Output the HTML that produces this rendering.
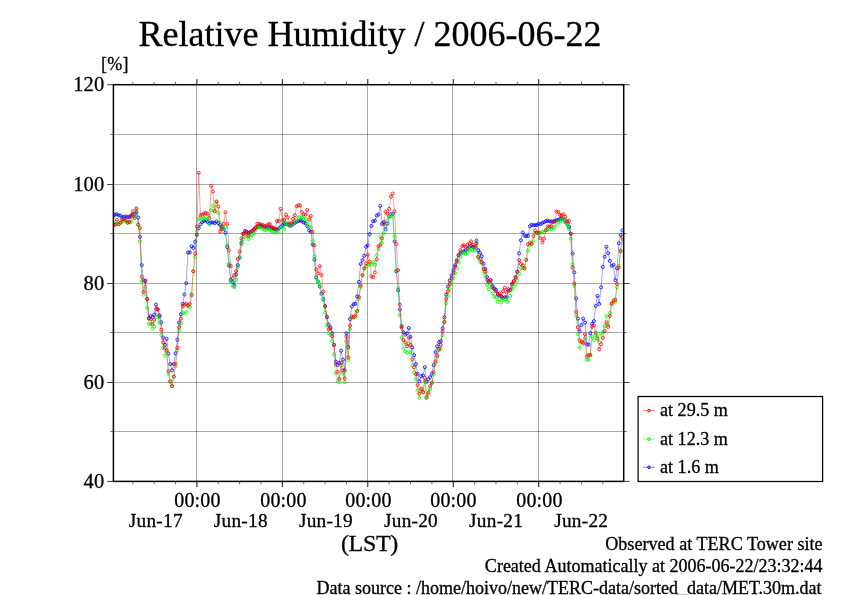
<!DOCTYPE html>
<html lang="en"><head><meta charset="utf-8"><title>Relative Humidity / 2006-06-22</title>
<style>
html,body{margin:0;padding:0;background:#fff;}
body{width:842px;height:595px;overflow:hidden;}
svg{display:block;will-change:transform;}
text{font-family:"Liberation Serif","Times New Roman",serif;fill:#000;stroke:#000;stroke-width:0.3px;}
</style></head><body>
<svg width="842" height="595" viewBox="0 0 842 595">
<rect width="842" height="595" fill="#fff"/>

<g stroke="#000" stroke-width="0.35" fill="none">
<line x1="196.5" y1="84.7" x2="196.5" y2="481.4"/>
<line x1="282.5" y1="84.7" x2="282.5" y2="481.4"/>
<line x1="367.5" y1="84.7" x2="367.5" y2="481.4"/>
<line x1="452.5" y1="84.7" x2="452.5" y2="481.4"/>
<line x1="538.5" y1="84.7" x2="538.5" y2="481.4"/>
<line x1="113.4" y1="431.50" x2="623.7" y2="431.50"/>
<line x1="113.4" y1="382.50" x2="623.7" y2="382.50"/>
<line x1="113.4" y1="332.50" x2="623.7" y2="332.50"/>
<line x1="113.4" y1="283.50" x2="623.7" y2="283.50"/>
<line x1="113.4" y1="233.50" x2="623.7" y2="233.50"/>
<line x1="113.4" y1="184.50" x2="623.7" y2="184.50"/>
<line x1="113.4" y1="134.50" x2="623.7" y2="134.50"/>
</g>
<clipPath id="pc"><rect x="113.4" y="84.7" width="510.30" height="396.70"/></clipPath>
<g clip-path="url(#pc)" fill="none">
<path d="M113.3 215.6 L115.0 214.7 L116.8 214.2 L118.6 215.2 L120.4 215.6 L122.2 217.5 L123.9 216.8 L125.7 216.4 L127.5 217.0 L129.3 217.0 L131.1 216.4 L132.8 214.7 L134.6 214.3 L136.4 212.2 L138.2 217.5 L140.0 236.8 L141.7 265.1 L143.5 280.3 L145.3 281.1 L147.1 298.7 L148.9 318.1 L150.6 316.1 L152.4 317.2 L154.2 314.7 L156.0 304.6 L157.8 309.2 L159.5 315.5 L161.3 322.3 L163.1 337.6 L164.9 344.9 L166.7 338.8 L168.4 353.6 L170.2 364.1 L172.0 370.4 L173.8 364.1 L175.6 353.3 L177.3 339.7 L179.1 322.5 L180.9 314.2 L182.7 303.8 L184.5 294.5 L186.2 283.1 L188.0 252.5 L189.8 252.5 L191.6 246.1 L193.4 247.9 L195.1 241.6 L196.9 234.9 L198.7 228.2 L200.5 224.4 L202.3 222.0 L204.0 221.0 L205.8 220.2 L207.6 222.0 L209.4 223.1 L211.2 222.5 L212.9 222.5 L214.7 223.1 L216.5 221.4 L218.3 223.1 L220.1 224.8 L221.8 226.9 L223.6 229.0 L225.4 232.8 L227.2 247.1 L229.0 265.5 L230.7 279.9 L232.5 281.9 L234.3 285.6 L236.1 274.7 L237.9 265.1 L239.6 257.4 L241.4 242.9 L243.2 233.8 L245.0 230.8 L246.8 231.8 L248.5 233.1 L250.3 232.2 L252.1 231.1 L253.9 230.0 L255.7 228.1 L257.4 226.8 L259.2 226.0 L261.0 226.0 L262.8 226.4 L264.6 227.1 L266.4 227.7 L268.1 227.3 L269.9 227.7 L271.7 228.1 L273.5 228.7 L275.3 229.1 L277.0 229.5 L278.8 228.4 L280.6 226.8 L282.4 225.1 L284.2 224.1 L285.9 223.7 L287.7 224.4 L289.5 225.7 L291.3 225.7 L293.1 224.1 L294.8 222.8 L296.6 221.7 L298.4 221.0 L300.2 220.3 L302.0 221.0 L303.7 222.4 L305.5 223.3 L307.3 226.4 L309.1 230.4 L310.9 231.8 L312.6 244.5 L314.4 259.6 L316.2 277.2 L318.0 281.5 L319.8 286.6 L321.5 293.4 L323.3 299.3 L325.1 306.0 L326.9 317.2 L328.7 324.6 L330.4 327.2 L332.2 333.2 L334.0 344.9 L335.8 361.7 L337.6 365.1 L339.3 363.0 L341.1 350.7 L342.9 359.7 L344.7 370.4 L346.5 333.2 L348.2 347.2 L350.0 319.0 L351.8 306.4 L353.6 304.1 L355.4 303.7 L357.1 296.3 L358.9 281.8 L360.7 263.9 L362.5 260.2 L364.3 255.9 L366.0 246.8 L367.8 245.4 L369.6 234.1 L371.4 226.0 L373.2 221.2 L374.9 220.7 L376.7 215.6 L378.5 214.5 L380.3 205.9 L382.1 223.9 L383.8 221.9 L385.6 229.3 L387.4 223.6 L389.2 216.2 L391.0 214.5 L392.7 213.9 L394.5 241.4 L396.3 271.4 L398.1 290.3 L399.9 309.5 L401.6 326.1 L403.4 332.2 L405.2 334.6 L407.0 333.4 L408.8 328.0 L410.5 336.9 L412.3 347.6 L414.1 355.2 L415.9 364.1 L417.7 373.8 L419.4 381.2 L421.2 376.2 L423.0 375.4 L424.8 367.1 L426.6 381.9 L428.4 379.2 L430.1 377.2 L431.9 373.5 L433.7 365.1 L435.5 352.0 L437.3 346.2 L439.0 342.2 L440.8 341.2 L442.6 328.3 L444.4 317.3 L446.2 294.6 L447.9 286.5 L449.7 280.4 L451.5 275.7 L453.3 270.3 L455.1 265.2 L456.8 260.3 L458.6 255.6 L460.4 252.9 L462.2 252.2 L464.0 251.5 L465.7 250.2 L467.5 248.8 L469.3 247.5 L471.1 246.1 L472.9 246.8 L474.6 247.5 L476.4 240.5 L478.2 250.2 L480.0 252.9 L481.8 256.2 L483.5 263.6 L485.3 269.0 L487.1 277.1 L488.9 281.1 L490.7 280.4 L492.4 285.8 L494.2 288.5 L496.0 289.8 L497.8 293.9 L499.6 295.9 L501.3 296.6 L503.1 297.9 L504.9 297.2 L506.7 297.2 L508.5 289.2 L510.2 289.8 L512.0 284.5 L513.8 281.1 L515.6 277.1 L517.4 271.7 L519.1 253.4 L520.9 240.3 L522.7 232.4 L524.5 235.6 L526.3 236.2 L528.0 235.9 L529.8 226.3 L531.6 224.7 L533.4 225.2 L535.2 225.2 L536.9 225.0 L538.7 223.6 L540.5 224.3 L542.3 222.9 L544.1 222.3 L545.8 221.2 L547.6 220.7 L549.4 221.2 L551.2 221.6 L553.0 221.6 L554.7 220.7 L556.5 220.3 L558.3 219.9 L560.1 218.9 L561.9 218.5 L563.6 219.6 L565.4 221.2 L567.2 223.6 L569.0 227.0 L570.8 233.7 L572.5 253.5 L574.3 272.3 L576.1 298.4 L577.9 318.6 L579.7 331.4 L581.4 325.1 L583.2 318.6 L585.0 322.6 L586.8 344.3 L588.6 344.7 L590.3 333.2 L592.1 323.9 L593.9 321.1 L595.7 306.0 L597.5 295.9 L599.2 303.9 L601.0 287.4 L602.8 266.8 L604.6 256.8 L606.4 246.8 L608.2 253.2 L609.9 260.9 L611.7 265.9 L613.5 264.8 L615.3 280.1 L617.1 268.3 L618.8 243.2 L620.6 235.0 L622.4 230.3" stroke="#0000ff" stroke-width="0.36"/>
<path d="M111.7 215.6a1.52 1.52 0 1 0 3.04 0a1.52 1.52 0 1 0 -3.04 0M113.5 214.7a1.52 1.52 0 1 0 3.04 0a1.52 1.52 0 1 0 -3.04 0M115.3 214.2a1.52 1.52 0 1 0 3.04 0a1.52 1.52 0 1 0 -3.04 0M117.1 215.2a1.52 1.52 0 1 0 3.04 0a1.52 1.52 0 1 0 -3.04 0M118.9 215.6a1.52 1.52 0 1 0 3.04 0a1.52 1.52 0 1 0 -3.04 0M120.6 217.5a1.52 1.52 0 1 0 3.04 0a1.52 1.52 0 1 0 -3.04 0M122.4 216.8a1.52 1.52 0 1 0 3.04 0a1.52 1.52 0 1 0 -3.04 0M124.2 216.4a1.52 1.52 0 1 0 3.04 0a1.52 1.52 0 1 0 -3.04 0M126.0 217.0a1.52 1.52 0 1 0 3.04 0a1.52 1.52 0 1 0 -3.04 0M127.8 217.0a1.52 1.52 0 1 0 3.04 0a1.52 1.52 0 1 0 -3.04 0M129.5 216.4a1.52 1.52 0 1 0 3.04 0a1.52 1.52 0 1 0 -3.04 0M131.3 214.7a1.52 1.52 0 1 0 3.04 0a1.52 1.52 0 1 0 -3.04 0M133.1 214.3a1.52 1.52 0 1 0 3.04 0a1.52 1.52 0 1 0 -3.04 0M134.9 212.2a1.52 1.52 0 1 0 3.04 0a1.52 1.52 0 1 0 -3.04 0M136.7 217.5a1.52 1.52 0 1 0 3.04 0a1.52 1.52 0 1 0 -3.04 0M138.4 236.8a1.52 1.52 0 1 0 3.04 0a1.52 1.52 0 1 0 -3.04 0M140.2 265.1a1.52 1.52 0 1 0 3.04 0a1.52 1.52 0 1 0 -3.04 0M142.0 280.3a1.52 1.52 0 1 0 3.04 0a1.52 1.52 0 1 0 -3.04 0M143.8 281.1a1.52 1.52 0 1 0 3.04 0a1.52 1.52 0 1 0 -3.04 0M145.6 298.7a1.52 1.52 0 1 0 3.04 0a1.52 1.52 0 1 0 -3.04 0M147.3 318.1a1.52 1.52 0 1 0 3.04 0a1.52 1.52 0 1 0 -3.04 0M149.1 316.1a1.52 1.52 0 1 0 3.04 0a1.52 1.52 0 1 0 -3.04 0M150.9 317.2a1.52 1.52 0 1 0 3.04 0a1.52 1.52 0 1 0 -3.04 0M152.7 314.7a1.52 1.52 0 1 0 3.04 0a1.52 1.52 0 1 0 -3.04 0M154.5 304.6a1.52 1.52 0 1 0 3.04 0a1.52 1.52 0 1 0 -3.04 0M156.2 309.2a1.52 1.52 0 1 0 3.04 0a1.52 1.52 0 1 0 -3.04 0M158.0 315.5a1.52 1.52 0 1 0 3.04 0a1.52 1.52 0 1 0 -3.04 0M159.8 322.3a1.52 1.52 0 1 0 3.04 0a1.52 1.52 0 1 0 -3.04 0M161.6 337.6a1.52 1.52 0 1 0 3.04 0a1.52 1.52 0 1 0 -3.04 0M163.4 344.9a1.52 1.52 0 1 0 3.04 0a1.52 1.52 0 1 0 -3.04 0M165.1 338.8a1.52 1.52 0 1 0 3.04 0a1.52 1.52 0 1 0 -3.04 0M166.9 353.6a1.52 1.52 0 1 0 3.04 0a1.52 1.52 0 1 0 -3.04 0M168.7 364.1a1.52 1.52 0 1 0 3.04 0a1.52 1.52 0 1 0 -3.04 0M170.5 370.4a1.52 1.52 0 1 0 3.04 0a1.52 1.52 0 1 0 -3.04 0M172.3 364.1a1.52 1.52 0 1 0 3.04 0a1.52 1.52 0 1 0 -3.04 0M174.0 353.3a1.52 1.52 0 1 0 3.04 0a1.52 1.52 0 1 0 -3.04 0M175.8 339.7a1.52 1.52 0 1 0 3.04 0a1.52 1.52 0 1 0 -3.04 0M177.6 322.5a1.52 1.52 0 1 0 3.04 0a1.52 1.52 0 1 0 -3.04 0M179.4 314.2a1.52 1.52 0 1 0 3.04 0a1.52 1.52 0 1 0 -3.04 0M181.2 303.8a1.52 1.52 0 1 0 3.04 0a1.52 1.52 0 1 0 -3.04 0M182.9 294.5a1.52 1.52 0 1 0 3.04 0a1.52 1.52 0 1 0 -3.04 0M184.7 283.1a1.52 1.52 0 1 0 3.04 0a1.52 1.52 0 1 0 -3.04 0M186.5 252.5a1.52 1.52 0 1 0 3.04 0a1.52 1.52 0 1 0 -3.04 0M188.3 252.5a1.52 1.52 0 1 0 3.04 0a1.52 1.52 0 1 0 -3.04 0M190.1 246.1a1.52 1.52 0 1 0 3.04 0a1.52 1.52 0 1 0 -3.04 0M191.8 247.9a1.52 1.52 0 1 0 3.04 0a1.52 1.52 0 1 0 -3.04 0M193.6 241.6a1.52 1.52 0 1 0 3.04 0a1.52 1.52 0 1 0 -3.04 0M195.4 234.9a1.52 1.52 0 1 0 3.04 0a1.52 1.52 0 1 0 -3.04 0M197.2 228.2a1.52 1.52 0 1 0 3.04 0a1.52 1.52 0 1 0 -3.04 0M199.0 224.4a1.52 1.52 0 1 0 3.04 0a1.52 1.52 0 1 0 -3.04 0M200.7 222.0a1.52 1.52 0 1 0 3.04 0a1.52 1.52 0 1 0 -3.04 0M202.5 221.0a1.52 1.52 0 1 0 3.04 0a1.52 1.52 0 1 0 -3.04 0M204.3 220.2a1.52 1.52 0 1 0 3.04 0a1.52 1.52 0 1 0 -3.04 0M206.1 222.0a1.52 1.52 0 1 0 3.04 0a1.52 1.52 0 1 0 -3.04 0M207.9 223.1a1.52 1.52 0 1 0 3.04 0a1.52 1.52 0 1 0 -3.04 0M209.6 222.5a1.52 1.52 0 1 0 3.04 0a1.52 1.52 0 1 0 -3.04 0M211.4 222.5a1.52 1.52 0 1 0 3.04 0a1.52 1.52 0 1 0 -3.04 0M213.2 223.1a1.52 1.52 0 1 0 3.04 0a1.52 1.52 0 1 0 -3.04 0M215.0 221.4a1.52 1.52 0 1 0 3.04 0a1.52 1.52 0 1 0 -3.04 0M216.8 223.1a1.52 1.52 0 1 0 3.04 0a1.52 1.52 0 1 0 -3.04 0M218.5 224.8a1.52 1.52 0 1 0 3.04 0a1.52 1.52 0 1 0 -3.04 0M220.3 226.9a1.52 1.52 0 1 0 3.04 0a1.52 1.52 0 1 0 -3.04 0M222.1 229.0a1.52 1.52 0 1 0 3.04 0a1.52 1.52 0 1 0 -3.04 0M223.9 232.8a1.52 1.52 0 1 0 3.04 0a1.52 1.52 0 1 0 -3.04 0M225.7 247.1a1.52 1.52 0 1 0 3.04 0a1.52 1.52 0 1 0 -3.04 0M227.4 265.5a1.52 1.52 0 1 0 3.04 0a1.52 1.52 0 1 0 -3.04 0M229.2 279.9a1.52 1.52 0 1 0 3.04 0a1.52 1.52 0 1 0 -3.04 0M231.0 281.9a1.52 1.52 0 1 0 3.04 0a1.52 1.52 0 1 0 -3.04 0M232.8 285.6a1.52 1.52 0 1 0 3.04 0a1.52 1.52 0 1 0 -3.04 0M234.6 274.7a1.52 1.52 0 1 0 3.04 0a1.52 1.52 0 1 0 -3.04 0M236.3 265.1a1.52 1.52 0 1 0 3.04 0a1.52 1.52 0 1 0 -3.04 0M238.1 257.4a1.52 1.52 0 1 0 3.04 0a1.52 1.52 0 1 0 -3.04 0M239.9 242.9a1.52 1.52 0 1 0 3.04 0a1.52 1.52 0 1 0 -3.04 0M241.7 233.8a1.52 1.52 0 1 0 3.04 0a1.52 1.52 0 1 0 -3.04 0M243.5 230.8a1.52 1.52 0 1 0 3.04 0a1.52 1.52 0 1 0 -3.04 0M245.2 231.8a1.52 1.52 0 1 0 3.04 0a1.52 1.52 0 1 0 -3.04 0M247.0 233.1a1.52 1.52 0 1 0 3.04 0a1.52 1.52 0 1 0 -3.04 0M248.8 232.2a1.52 1.52 0 1 0 3.04 0a1.52 1.52 0 1 0 -3.04 0M250.6 231.1a1.52 1.52 0 1 0 3.04 0a1.52 1.52 0 1 0 -3.04 0M252.4 230.0a1.52 1.52 0 1 0 3.04 0a1.52 1.52 0 1 0 -3.04 0M254.1 228.1a1.52 1.52 0 1 0 3.04 0a1.52 1.52 0 1 0 -3.04 0M255.9 226.8a1.52 1.52 0 1 0 3.04 0a1.52 1.52 0 1 0 -3.04 0M257.7 226.0a1.52 1.52 0 1 0 3.04 0a1.52 1.52 0 1 0 -3.04 0M259.5 226.0a1.52 1.52 0 1 0 3.04 0a1.52 1.52 0 1 0 -3.04 0M261.3 226.4a1.52 1.52 0 1 0 3.04 0a1.52 1.52 0 1 0 -3.04 0M263.1 227.1a1.52 1.52 0 1 0 3.04 0a1.52 1.52 0 1 0 -3.04 0M264.8 227.7a1.52 1.52 0 1 0 3.04 0a1.52 1.52 0 1 0 -3.04 0M266.6 227.3a1.52 1.52 0 1 0 3.04 0a1.52 1.52 0 1 0 -3.04 0M268.4 227.7a1.52 1.52 0 1 0 3.04 0a1.52 1.52 0 1 0 -3.04 0M270.2 228.1a1.52 1.52 0 1 0 3.04 0a1.52 1.52 0 1 0 -3.04 0M272.0 228.7a1.52 1.52 0 1 0 3.04 0a1.52 1.52 0 1 0 -3.04 0M273.7 229.1a1.52 1.52 0 1 0 3.04 0a1.52 1.52 0 1 0 -3.04 0M275.5 229.5a1.52 1.52 0 1 0 3.04 0a1.52 1.52 0 1 0 -3.04 0M277.3 228.4a1.52 1.52 0 1 0 3.04 0a1.52 1.52 0 1 0 -3.04 0M279.1 226.8a1.52 1.52 0 1 0 3.04 0a1.52 1.52 0 1 0 -3.04 0M280.9 225.1a1.52 1.52 0 1 0 3.04 0a1.52 1.52 0 1 0 -3.04 0M282.6 224.1a1.52 1.52 0 1 0 3.04 0a1.52 1.52 0 1 0 -3.04 0M284.4 223.7a1.52 1.52 0 1 0 3.04 0a1.52 1.52 0 1 0 -3.04 0M286.2 224.4a1.52 1.52 0 1 0 3.04 0a1.52 1.52 0 1 0 -3.04 0M288.0 225.7a1.52 1.52 0 1 0 3.04 0a1.52 1.52 0 1 0 -3.04 0M289.8 225.7a1.52 1.52 0 1 0 3.04 0a1.52 1.52 0 1 0 -3.04 0M291.5 224.1a1.52 1.52 0 1 0 3.04 0a1.52 1.52 0 1 0 -3.04 0M293.3 222.8a1.52 1.52 0 1 0 3.04 0a1.52 1.52 0 1 0 -3.04 0M295.1 221.7a1.52 1.52 0 1 0 3.04 0a1.52 1.52 0 1 0 -3.04 0M296.9 221.0a1.52 1.52 0 1 0 3.04 0a1.52 1.52 0 1 0 -3.04 0M298.7 220.3a1.52 1.52 0 1 0 3.04 0a1.52 1.52 0 1 0 -3.04 0M300.4 221.0a1.52 1.52 0 1 0 3.04 0a1.52 1.52 0 1 0 -3.04 0M302.2 222.4a1.52 1.52 0 1 0 3.04 0a1.52 1.52 0 1 0 -3.04 0M304.0 223.3a1.52 1.52 0 1 0 3.04 0a1.52 1.52 0 1 0 -3.04 0M305.8 226.4a1.52 1.52 0 1 0 3.04 0a1.52 1.52 0 1 0 -3.04 0M307.6 230.4a1.52 1.52 0 1 0 3.04 0a1.52 1.52 0 1 0 -3.04 0M309.3 231.8a1.52 1.52 0 1 0 3.04 0a1.52 1.52 0 1 0 -3.04 0M311.1 244.5a1.52 1.52 0 1 0 3.04 0a1.52 1.52 0 1 0 -3.04 0M312.9 259.6a1.52 1.52 0 1 0 3.04 0a1.52 1.52 0 1 0 -3.04 0M314.7 277.2a1.52 1.52 0 1 0 3.04 0a1.52 1.52 0 1 0 -3.04 0M316.5 281.5a1.52 1.52 0 1 0 3.04 0a1.52 1.52 0 1 0 -3.04 0M318.2 286.6a1.52 1.52 0 1 0 3.04 0a1.52 1.52 0 1 0 -3.04 0M320.0 293.4a1.52 1.52 0 1 0 3.04 0a1.52 1.52 0 1 0 -3.04 0M321.8 299.3a1.52 1.52 0 1 0 3.04 0a1.52 1.52 0 1 0 -3.04 0M323.6 306.0a1.52 1.52 0 1 0 3.04 0a1.52 1.52 0 1 0 -3.04 0M325.4 317.2a1.52 1.52 0 1 0 3.04 0a1.52 1.52 0 1 0 -3.04 0M327.1 324.6a1.52 1.52 0 1 0 3.04 0a1.52 1.52 0 1 0 -3.04 0M328.9 327.2a1.52 1.52 0 1 0 3.04 0a1.52 1.52 0 1 0 -3.04 0M330.7 333.2a1.52 1.52 0 1 0 3.04 0a1.52 1.52 0 1 0 -3.04 0M332.5 344.9a1.52 1.52 0 1 0 3.04 0a1.52 1.52 0 1 0 -3.04 0M334.3 361.7a1.52 1.52 0 1 0 3.04 0a1.52 1.52 0 1 0 -3.04 0M336.0 365.1a1.52 1.52 0 1 0 3.04 0a1.52 1.52 0 1 0 -3.04 0M337.8 363.0a1.52 1.52 0 1 0 3.04 0a1.52 1.52 0 1 0 -3.04 0M339.6 350.7a1.52 1.52 0 1 0 3.04 0a1.52 1.52 0 1 0 -3.04 0M341.4 359.7a1.52 1.52 0 1 0 3.04 0a1.52 1.52 0 1 0 -3.04 0M343.2 370.4a1.52 1.52 0 1 0 3.04 0a1.52 1.52 0 1 0 -3.04 0M344.9 333.2a1.52 1.52 0 1 0 3.04 0a1.52 1.52 0 1 0 -3.04 0M346.7 347.2a1.52 1.52 0 1 0 3.04 0a1.52 1.52 0 1 0 -3.04 0M348.5 319.0a1.52 1.52 0 1 0 3.04 0a1.52 1.52 0 1 0 -3.04 0M350.3 306.4a1.52 1.52 0 1 0 3.04 0a1.52 1.52 0 1 0 -3.04 0M352.1 304.1a1.52 1.52 0 1 0 3.04 0a1.52 1.52 0 1 0 -3.04 0M353.8 303.7a1.52 1.52 0 1 0 3.04 0a1.52 1.52 0 1 0 -3.04 0M355.6 296.3a1.52 1.52 0 1 0 3.04 0a1.52 1.52 0 1 0 -3.04 0M357.4 281.8a1.52 1.52 0 1 0 3.04 0a1.52 1.52 0 1 0 -3.04 0M359.2 263.9a1.52 1.52 0 1 0 3.04 0a1.52 1.52 0 1 0 -3.04 0M361.0 260.2a1.52 1.52 0 1 0 3.04 0a1.52 1.52 0 1 0 -3.04 0M362.7 255.9a1.52 1.52 0 1 0 3.04 0a1.52 1.52 0 1 0 -3.04 0M364.5 246.8a1.52 1.52 0 1 0 3.04 0a1.52 1.52 0 1 0 -3.04 0M366.3 245.4a1.52 1.52 0 1 0 3.04 0a1.52 1.52 0 1 0 -3.04 0M368.1 234.1a1.52 1.52 0 1 0 3.04 0a1.52 1.52 0 1 0 -3.04 0M369.9 226.0a1.52 1.52 0 1 0 3.04 0a1.52 1.52 0 1 0 -3.04 0M371.6 221.2a1.52 1.52 0 1 0 3.04 0a1.52 1.52 0 1 0 -3.04 0M373.4 220.7a1.52 1.52 0 1 0 3.04 0a1.52 1.52 0 1 0 -3.04 0M375.2 215.6a1.52 1.52 0 1 0 3.04 0a1.52 1.52 0 1 0 -3.04 0M377.0 214.5a1.52 1.52 0 1 0 3.04 0a1.52 1.52 0 1 0 -3.04 0M378.8 205.9a1.52 1.52 0 1 0 3.04 0a1.52 1.52 0 1 0 -3.04 0M380.5 223.9a1.52 1.52 0 1 0 3.04 0a1.52 1.52 0 1 0 -3.04 0M382.3 221.9a1.52 1.52 0 1 0 3.04 0a1.52 1.52 0 1 0 -3.04 0M384.1 229.3a1.52 1.52 0 1 0 3.04 0a1.52 1.52 0 1 0 -3.04 0M385.9 223.6a1.52 1.52 0 1 0 3.04 0a1.52 1.52 0 1 0 -3.04 0M387.7 216.2a1.52 1.52 0 1 0 3.04 0a1.52 1.52 0 1 0 -3.04 0M389.4 214.5a1.52 1.52 0 1 0 3.04 0a1.52 1.52 0 1 0 -3.04 0M391.2 213.9a1.52 1.52 0 1 0 3.04 0a1.52 1.52 0 1 0 -3.04 0M393.0 241.4a1.52 1.52 0 1 0 3.04 0a1.52 1.52 0 1 0 -3.04 0M394.8 271.4a1.52 1.52 0 1 0 3.04 0a1.52 1.52 0 1 0 -3.04 0M396.6 290.3a1.52 1.52 0 1 0 3.04 0a1.52 1.52 0 1 0 -3.04 0M398.3 309.5a1.52 1.52 0 1 0 3.04 0a1.52 1.52 0 1 0 -3.04 0M400.1 326.1a1.52 1.52 0 1 0 3.04 0a1.52 1.52 0 1 0 -3.04 0M401.9 332.2a1.52 1.52 0 1 0 3.04 0a1.52 1.52 0 1 0 -3.04 0M403.7 334.6a1.52 1.52 0 1 0 3.04 0a1.52 1.52 0 1 0 -3.04 0M405.5 333.4a1.52 1.52 0 1 0 3.04 0a1.52 1.52 0 1 0 -3.04 0M407.2 328.0a1.52 1.52 0 1 0 3.04 0a1.52 1.52 0 1 0 -3.04 0M409.0 336.9a1.52 1.52 0 1 0 3.04 0a1.52 1.52 0 1 0 -3.04 0M410.8 347.6a1.52 1.52 0 1 0 3.04 0a1.52 1.52 0 1 0 -3.04 0M412.6 355.2a1.52 1.52 0 1 0 3.04 0a1.52 1.52 0 1 0 -3.04 0M414.4 364.1a1.52 1.52 0 1 0 3.04 0a1.52 1.52 0 1 0 -3.04 0M416.1 373.8a1.52 1.52 0 1 0 3.04 0a1.52 1.52 0 1 0 -3.04 0M417.9 381.2a1.52 1.52 0 1 0 3.04 0a1.52 1.52 0 1 0 -3.04 0M419.7 376.2a1.52 1.52 0 1 0 3.04 0a1.52 1.52 0 1 0 -3.04 0M421.5 375.4a1.52 1.52 0 1 0 3.04 0a1.52 1.52 0 1 0 -3.04 0M423.3 367.1a1.52 1.52 0 1 0 3.04 0a1.52 1.52 0 1 0 -3.04 0M425.0 381.9a1.52 1.52 0 1 0 3.04 0a1.52 1.52 0 1 0 -3.04 0M426.8 379.2a1.52 1.52 0 1 0 3.04 0a1.52 1.52 0 1 0 -3.04 0M428.6 377.2a1.52 1.52 0 1 0 3.04 0a1.52 1.52 0 1 0 -3.04 0M430.4 373.5a1.52 1.52 0 1 0 3.04 0a1.52 1.52 0 1 0 -3.04 0M432.2 365.1a1.52 1.52 0 1 0 3.04 0a1.52 1.52 0 1 0 -3.04 0M434.0 352.0a1.52 1.52 0 1 0 3.04 0a1.52 1.52 0 1 0 -3.04 0M435.7 346.2a1.52 1.52 0 1 0 3.04 0a1.52 1.52 0 1 0 -3.04 0M437.5 342.2a1.52 1.52 0 1 0 3.04 0a1.52 1.52 0 1 0 -3.04 0M439.3 341.2a1.52 1.52 0 1 0 3.04 0a1.52 1.52 0 1 0 -3.04 0M441.1 328.3a1.52 1.52 0 1 0 3.04 0a1.52 1.52 0 1 0 -3.04 0M442.9 317.3a1.52 1.52 0 1 0 3.04 0a1.52 1.52 0 1 0 -3.04 0M444.6 294.6a1.52 1.52 0 1 0 3.04 0a1.52 1.52 0 1 0 -3.04 0M446.4 286.5a1.52 1.52 0 1 0 3.04 0a1.52 1.52 0 1 0 -3.04 0M448.2 280.4a1.52 1.52 0 1 0 3.04 0a1.52 1.52 0 1 0 -3.04 0M450.0 275.7a1.52 1.52 0 1 0 3.04 0a1.52 1.52 0 1 0 -3.04 0M451.8 270.3a1.52 1.52 0 1 0 3.04 0a1.52 1.52 0 1 0 -3.04 0M453.5 265.2a1.52 1.52 0 1 0 3.04 0a1.52 1.52 0 1 0 -3.04 0M455.3 260.3a1.52 1.52 0 1 0 3.04 0a1.52 1.52 0 1 0 -3.04 0M457.1 255.6a1.52 1.52 0 1 0 3.04 0a1.52 1.52 0 1 0 -3.04 0M458.9 252.9a1.52 1.52 0 1 0 3.04 0a1.52 1.52 0 1 0 -3.04 0M460.7 252.2a1.52 1.52 0 1 0 3.04 0a1.52 1.52 0 1 0 -3.04 0M462.4 251.5a1.52 1.52 0 1 0 3.04 0a1.52 1.52 0 1 0 -3.04 0M464.2 250.2a1.52 1.52 0 1 0 3.04 0a1.52 1.52 0 1 0 -3.04 0M466.0 248.8a1.52 1.52 0 1 0 3.04 0a1.52 1.52 0 1 0 -3.04 0M467.8 247.5a1.52 1.52 0 1 0 3.04 0a1.52 1.52 0 1 0 -3.04 0M469.6 246.1a1.52 1.52 0 1 0 3.04 0a1.52 1.52 0 1 0 -3.04 0M471.3 246.8a1.52 1.52 0 1 0 3.04 0a1.52 1.52 0 1 0 -3.04 0M473.1 247.5a1.52 1.52 0 1 0 3.04 0a1.52 1.52 0 1 0 -3.04 0M474.9 240.5a1.52 1.52 0 1 0 3.04 0a1.52 1.52 0 1 0 -3.04 0M476.7 250.2a1.52 1.52 0 1 0 3.04 0a1.52 1.52 0 1 0 -3.04 0M478.5 252.9a1.52 1.52 0 1 0 3.04 0a1.52 1.52 0 1 0 -3.04 0M480.2 256.2a1.52 1.52 0 1 0 3.04 0a1.52 1.52 0 1 0 -3.04 0M482.0 263.6a1.52 1.52 0 1 0 3.04 0a1.52 1.52 0 1 0 -3.04 0M483.8 269.0a1.52 1.52 0 1 0 3.04 0a1.52 1.52 0 1 0 -3.04 0M485.6 277.1a1.52 1.52 0 1 0 3.04 0a1.52 1.52 0 1 0 -3.04 0M487.4 281.1a1.52 1.52 0 1 0 3.04 0a1.52 1.52 0 1 0 -3.04 0M489.1 280.4a1.52 1.52 0 1 0 3.04 0a1.52 1.52 0 1 0 -3.04 0M490.9 285.8a1.52 1.52 0 1 0 3.04 0a1.52 1.52 0 1 0 -3.04 0M492.7 288.5a1.52 1.52 0 1 0 3.04 0a1.52 1.52 0 1 0 -3.04 0M494.5 289.8a1.52 1.52 0 1 0 3.04 0a1.52 1.52 0 1 0 -3.04 0M496.3 293.9a1.52 1.52 0 1 0 3.04 0a1.52 1.52 0 1 0 -3.04 0M498.0 295.9a1.52 1.52 0 1 0 3.04 0a1.52 1.52 0 1 0 -3.04 0M499.8 296.6a1.52 1.52 0 1 0 3.04 0a1.52 1.52 0 1 0 -3.04 0M501.6 297.9a1.52 1.52 0 1 0 3.04 0a1.52 1.52 0 1 0 -3.04 0M503.4 297.2a1.52 1.52 0 1 0 3.04 0a1.52 1.52 0 1 0 -3.04 0M505.2 297.2a1.52 1.52 0 1 0 3.04 0a1.52 1.52 0 1 0 -3.04 0M506.9 289.2a1.52 1.52 0 1 0 3.04 0a1.52 1.52 0 1 0 -3.04 0M508.7 289.8a1.52 1.52 0 1 0 3.04 0a1.52 1.52 0 1 0 -3.04 0M510.5 284.5a1.52 1.52 0 1 0 3.04 0a1.52 1.52 0 1 0 -3.04 0M512.3 281.1a1.52 1.52 0 1 0 3.04 0a1.52 1.52 0 1 0 -3.04 0M514.1 277.1a1.52 1.52 0 1 0 3.04 0a1.52 1.52 0 1 0 -3.04 0M515.8 271.7a1.52 1.52 0 1 0 3.04 0a1.52 1.52 0 1 0 -3.04 0M517.6 253.4a1.52 1.52 0 1 0 3.04 0a1.52 1.52 0 1 0 -3.04 0M519.4 240.3a1.52 1.52 0 1 0 3.04 0a1.52 1.52 0 1 0 -3.04 0M521.2 232.4a1.52 1.52 0 1 0 3.04 0a1.52 1.52 0 1 0 -3.04 0M523.0 235.6a1.52 1.52 0 1 0 3.04 0a1.52 1.52 0 1 0 -3.04 0M524.7 236.2a1.52 1.52 0 1 0 3.04 0a1.52 1.52 0 1 0 -3.04 0M526.5 235.9a1.52 1.52 0 1 0 3.04 0a1.52 1.52 0 1 0 -3.04 0M528.3 226.3a1.52 1.52 0 1 0 3.04 0a1.52 1.52 0 1 0 -3.04 0M530.1 224.7a1.52 1.52 0 1 0 3.04 0a1.52 1.52 0 1 0 -3.04 0M531.9 225.2a1.52 1.52 0 1 0 3.04 0a1.52 1.52 0 1 0 -3.04 0M533.6 225.2a1.52 1.52 0 1 0 3.04 0a1.52 1.52 0 1 0 -3.04 0M535.4 225.0a1.52 1.52 0 1 0 3.04 0a1.52 1.52 0 1 0 -3.04 0M537.2 223.6a1.52 1.52 0 1 0 3.04 0a1.52 1.52 0 1 0 -3.04 0M539.0 224.3a1.52 1.52 0 1 0 3.04 0a1.52 1.52 0 1 0 -3.04 0M540.8 222.9a1.52 1.52 0 1 0 3.04 0a1.52 1.52 0 1 0 -3.04 0M542.5 222.3a1.52 1.52 0 1 0 3.04 0a1.52 1.52 0 1 0 -3.04 0M544.3 221.2a1.52 1.52 0 1 0 3.04 0a1.52 1.52 0 1 0 -3.04 0M546.1 220.7a1.52 1.52 0 1 0 3.04 0a1.52 1.52 0 1 0 -3.04 0M547.9 221.2a1.52 1.52 0 1 0 3.04 0a1.52 1.52 0 1 0 -3.04 0M549.7 221.6a1.52 1.52 0 1 0 3.04 0a1.52 1.52 0 1 0 -3.04 0M551.4 221.6a1.52 1.52 0 1 0 3.04 0a1.52 1.52 0 1 0 -3.04 0M553.2 220.7a1.52 1.52 0 1 0 3.04 0a1.52 1.52 0 1 0 -3.04 0M555.0 220.3a1.52 1.52 0 1 0 3.04 0a1.52 1.52 0 1 0 -3.04 0M556.8 219.9a1.52 1.52 0 1 0 3.04 0a1.52 1.52 0 1 0 -3.04 0M558.6 218.9a1.52 1.52 0 1 0 3.04 0a1.52 1.52 0 1 0 -3.04 0M560.3 218.5a1.52 1.52 0 1 0 3.04 0a1.52 1.52 0 1 0 -3.04 0M562.1 219.6a1.52 1.52 0 1 0 3.04 0a1.52 1.52 0 1 0 -3.04 0M563.9 221.2a1.52 1.52 0 1 0 3.04 0a1.52 1.52 0 1 0 -3.04 0M565.7 223.6a1.52 1.52 0 1 0 3.04 0a1.52 1.52 0 1 0 -3.04 0M567.5 227.0a1.52 1.52 0 1 0 3.04 0a1.52 1.52 0 1 0 -3.04 0M569.2 233.7a1.52 1.52 0 1 0 3.04 0a1.52 1.52 0 1 0 -3.04 0M571.0 253.5a1.52 1.52 0 1 0 3.04 0a1.52 1.52 0 1 0 -3.04 0M572.8 272.3a1.52 1.52 0 1 0 3.04 0a1.52 1.52 0 1 0 -3.04 0M574.6 298.4a1.52 1.52 0 1 0 3.04 0a1.52 1.52 0 1 0 -3.04 0M576.4 318.6a1.52 1.52 0 1 0 3.04 0a1.52 1.52 0 1 0 -3.04 0M578.1 331.4a1.52 1.52 0 1 0 3.04 0a1.52 1.52 0 1 0 -3.04 0M579.9 325.1a1.52 1.52 0 1 0 3.04 0a1.52 1.52 0 1 0 -3.04 0M581.7 318.6a1.52 1.52 0 1 0 3.04 0a1.52 1.52 0 1 0 -3.04 0M583.5 322.6a1.52 1.52 0 1 0 3.04 0a1.52 1.52 0 1 0 -3.04 0M585.3 344.3a1.52 1.52 0 1 0 3.04 0a1.52 1.52 0 1 0 -3.04 0M587.0 344.7a1.52 1.52 0 1 0 3.04 0a1.52 1.52 0 1 0 -3.04 0M588.8 333.2a1.52 1.52 0 1 0 3.04 0a1.52 1.52 0 1 0 -3.04 0M590.6 323.9a1.52 1.52 0 1 0 3.04 0a1.52 1.52 0 1 0 -3.04 0M592.4 321.1a1.52 1.52 0 1 0 3.04 0a1.52 1.52 0 1 0 -3.04 0M594.2 306.0a1.52 1.52 0 1 0 3.04 0a1.52 1.52 0 1 0 -3.04 0M595.9 295.9a1.52 1.52 0 1 0 3.04 0a1.52 1.52 0 1 0 -3.04 0M597.7 303.9a1.52 1.52 0 1 0 3.04 0a1.52 1.52 0 1 0 -3.04 0M599.5 287.4a1.52 1.52 0 1 0 3.04 0a1.52 1.52 0 1 0 -3.04 0M601.3 266.8a1.52 1.52 0 1 0 3.04 0a1.52 1.52 0 1 0 -3.04 0M603.1 256.8a1.52 1.52 0 1 0 3.04 0a1.52 1.52 0 1 0 -3.04 0M604.9 246.8a1.52 1.52 0 1 0 3.04 0a1.52 1.52 0 1 0 -3.04 0M606.6 253.2a1.52 1.52 0 1 0 3.04 0a1.52 1.52 0 1 0 -3.04 0M608.4 260.9a1.52 1.52 0 1 0 3.04 0a1.52 1.52 0 1 0 -3.04 0M610.2 265.9a1.52 1.52 0 1 0 3.04 0a1.52 1.52 0 1 0 -3.04 0M612.0 264.8a1.52 1.52 0 1 0 3.04 0a1.52 1.52 0 1 0 -3.04 0M613.8 280.1a1.52 1.52 0 1 0 3.04 0a1.52 1.52 0 1 0 -3.04 0M615.5 268.3a1.52 1.52 0 1 0 3.04 0a1.52 1.52 0 1 0 -3.04 0M617.3 243.2a1.52 1.52 0 1 0 3.04 0a1.52 1.52 0 1 0 -3.04 0M619.1 235.0a1.52 1.52 0 1 0 3.04 0a1.52 1.52 0 1 0 -3.04 0M620.9 230.3a1.52 1.52 0 1 0 3.04 0a1.52 1.52 0 1 0 -3.04 0" stroke="#0000ff" stroke-width="0.8"/>
<path d="M113.3 222.7 L115.0 224.4 L116.8 223.6 L118.6 224.0 L120.4 222.7 L122.2 221.9 L123.9 220.2 L125.7 221.1 L127.5 222.7 L129.3 222.3 L131.1 221.9 L132.8 217.3 L134.6 215.2 L136.4 208.9 L138.2 224.8 L140.0 241.4 L141.7 281.1 L143.5 294.5 L145.3 286.6 L147.1 308.0 L148.9 323.9 L150.6 323.9 L152.4 328.7 L154.2 326.5 L156.0 314.7 L157.8 317.2 L159.5 322.6 L161.3 334.8 L163.1 347.8 L164.9 355.6 L166.7 351.6 L168.4 373.8 L170.2 381.8 L172.0 386.1 L173.8 376.7 L175.6 366.4 L177.3 350.2 L179.1 330.2 L180.9 323.1 L182.7 312.5 L184.5 313.5 L186.2 312.5 L188.0 306.3 L189.8 307.1 L191.6 294.0 L193.4 271.0 L195.1 256.7 L196.9 231.3 L198.7 218.7 L200.5 219.5 L202.3 218.9 L204.0 218.1 L205.8 217.2 L207.6 219.7 L209.4 224.8 L211.2 210.1 L212.9 205.7 L214.7 211.1 L216.5 201.3 L218.3 213.0 L220.1 222.5 L221.8 229.0 L223.6 228.2 L225.4 226.9 L227.2 245.0 L229.0 263.8 L230.7 281.9 L232.5 286.1 L234.3 287.3 L236.1 279.9 L237.9 266.8 L239.6 257.9 L241.4 244.3 L243.2 239.2 L245.0 236.5 L246.8 235.8 L248.5 239.2 L250.3 236.5 L252.1 235.1 L253.9 233.8 L255.7 230.4 L257.4 227.7 L259.2 227.3 L261.0 227.7 L262.8 228.7 L264.6 230.0 L266.4 230.4 L268.1 229.1 L269.9 229.5 L271.7 231.8 L273.5 232.2 L275.3 232.2 L277.0 232.2 L278.8 231.8 L280.6 227.7 L282.4 226.8 L284.2 229.1 L285.9 223.7 L287.7 223.3 L289.5 224.4 L291.3 225.1 L293.1 222.8 L294.8 221.0 L296.6 219.3 L298.4 217.7 L300.2 216.6 L302.0 217.4 L303.7 218.7 L305.5 219.3 L307.3 223.7 L309.1 226.4 L310.9 227.1 L312.6 241.0 L314.4 256.5 L316.2 278.2 L318.0 282.2 L319.8 283.5 L321.5 294.3 L323.3 299.7 L325.1 312.7 L326.9 325.2 L328.7 333.4 L330.4 334.7 L332.2 341.0 L334.0 354.3 L335.8 373.1 L337.6 380.5 L339.3 382.1 L341.1 365.7 L342.9 373.1 L344.7 382.1 L346.5 341.2 L348.2 360.1 L350.0 329.2 L351.8 317.2 L353.6 317.8 L355.4 317.2 L357.1 311.8 L358.9 299.0 L360.7 286.9 L362.5 275.5 L364.3 268.7 L366.0 266.4 L367.8 264.9 L369.6 263.9 L371.4 264.9 L373.2 262.0 L374.9 264.9 L376.7 255.2 L378.5 249.4 L380.3 236.8 L382.1 243.1 L383.8 233.3 L385.6 226.3 L387.4 220.3 L389.2 216.9 L391.0 214.9 L392.7 216.2 L394.5 236.4 L396.3 270.1 L398.1 288.5 L399.9 314.9 L401.6 337.3 L403.4 348.5 L405.2 351.6 L407.0 352.9 L408.8 343.5 L410.5 352.3 L412.3 365.5 L414.1 372.4 L415.9 378.9 L417.7 390.2 L419.4 398.0 L421.2 389.3 L423.0 392.6 L424.8 381.2 L426.6 398.0 L428.4 394.0 L430.1 388.9 L431.9 383.2 L433.7 374.5 L435.5 363.0 L437.3 357.0 L439.0 349.9 L440.8 348.9 L442.6 335.1 L444.4 322.0 L446.2 303.3 L447.9 295.9 L449.7 289.2 L451.5 283.8 L453.3 278.4 L455.1 273.0 L456.8 268.3 L458.6 262.3 L460.4 256.9 L462.2 252.9 L464.0 253.5 L465.7 253.5 L467.5 252.9 L469.3 249.5 L471.1 247.2 L472.9 250.2 L474.6 250.8 L476.4 242.8 L478.2 257.6 L480.0 261.6 L481.8 262.9 L483.5 271.7 L485.3 276.4 L487.1 285.1 L488.9 289.2 L490.7 283.1 L492.4 293.2 L494.2 296.6 L496.0 297.2 L497.8 301.9 L499.6 298.9 L501.3 302.6 L503.1 299.9 L504.9 299.3 L506.7 301.9 L508.5 300.6 L510.2 295.9 L512.0 289.2 L513.8 286.5 L515.6 284.5 L517.4 280.4 L519.1 273.7 L520.9 268.2 L522.7 268.2 L524.5 268.5 L526.3 259.9 L528.0 250.8 L529.8 245.0 L531.6 244.2 L533.4 241.3 L535.2 232.9 L536.9 232.9 L538.7 233.1 L540.5 232.8 L542.3 232.0 L544.1 232.4 L545.8 230.1 L547.6 229.7 L549.4 228.3 L551.2 229.0 L553.0 227.4 L554.7 227.7 L556.5 224.3 L558.3 222.3 L560.1 221.2 L561.9 219.6 L563.6 219.9 L565.4 222.3 L567.2 225.2 L569.0 229.0 L570.8 238.7 L572.5 264.7 L574.3 285.9 L576.1 315.5 L577.9 334.1 L579.7 348.1 L581.4 342.3 L583.2 342.0 L585.0 338.2 L586.8 359.8 L588.6 359.8 L590.3 355.6 L592.1 336.7 L593.9 340.2 L595.7 335.2 L597.5 336.0 L599.2 342.0 L601.0 333.7 L602.8 332.2 L604.6 326.1 L606.4 316.0 L608.2 324.6 L609.9 313.0 L611.7 303.0 L613.5 300.0 L615.3 301.9 L617.1 287.3 L618.8 265.6 L620.6 251.5 L622.4 239.1" stroke="#00ff00" stroke-width="0.36"/>
<path d="M111.7 222.7a1.52 1.52 0 1 0 3.04 0a1.52 1.52 0 1 0 -3.04 0M113.5 224.4a1.52 1.52 0 1 0 3.04 0a1.52 1.52 0 1 0 -3.04 0M115.3 223.6a1.52 1.52 0 1 0 3.04 0a1.52 1.52 0 1 0 -3.04 0M117.1 224.0a1.52 1.52 0 1 0 3.04 0a1.52 1.52 0 1 0 -3.04 0M118.9 222.7a1.52 1.52 0 1 0 3.04 0a1.52 1.52 0 1 0 -3.04 0M120.6 221.9a1.52 1.52 0 1 0 3.04 0a1.52 1.52 0 1 0 -3.04 0M122.4 220.2a1.52 1.52 0 1 0 3.04 0a1.52 1.52 0 1 0 -3.04 0M124.2 221.1a1.52 1.52 0 1 0 3.04 0a1.52 1.52 0 1 0 -3.04 0M126.0 222.7a1.52 1.52 0 1 0 3.04 0a1.52 1.52 0 1 0 -3.04 0M127.8 222.3a1.52 1.52 0 1 0 3.04 0a1.52 1.52 0 1 0 -3.04 0M129.5 221.9a1.52 1.52 0 1 0 3.04 0a1.52 1.52 0 1 0 -3.04 0M131.3 217.3a1.52 1.52 0 1 0 3.04 0a1.52 1.52 0 1 0 -3.04 0M133.1 215.2a1.52 1.52 0 1 0 3.04 0a1.52 1.52 0 1 0 -3.04 0M134.9 208.9a1.52 1.52 0 1 0 3.04 0a1.52 1.52 0 1 0 -3.04 0M136.7 224.8a1.52 1.52 0 1 0 3.04 0a1.52 1.52 0 1 0 -3.04 0M138.4 241.4a1.52 1.52 0 1 0 3.04 0a1.52 1.52 0 1 0 -3.04 0M140.2 281.1a1.52 1.52 0 1 0 3.04 0a1.52 1.52 0 1 0 -3.04 0M142.0 294.5a1.52 1.52 0 1 0 3.04 0a1.52 1.52 0 1 0 -3.04 0M143.8 286.6a1.52 1.52 0 1 0 3.04 0a1.52 1.52 0 1 0 -3.04 0M145.6 308.0a1.52 1.52 0 1 0 3.04 0a1.52 1.52 0 1 0 -3.04 0M147.3 323.9a1.52 1.52 0 1 0 3.04 0a1.52 1.52 0 1 0 -3.04 0M149.1 323.9a1.52 1.52 0 1 0 3.04 0a1.52 1.52 0 1 0 -3.04 0M150.9 328.7a1.52 1.52 0 1 0 3.04 0a1.52 1.52 0 1 0 -3.04 0M152.7 326.5a1.52 1.52 0 1 0 3.04 0a1.52 1.52 0 1 0 -3.04 0M154.5 314.7a1.52 1.52 0 1 0 3.04 0a1.52 1.52 0 1 0 -3.04 0M156.2 317.2a1.52 1.52 0 1 0 3.04 0a1.52 1.52 0 1 0 -3.04 0M158.0 322.6a1.52 1.52 0 1 0 3.04 0a1.52 1.52 0 1 0 -3.04 0M159.8 334.8a1.52 1.52 0 1 0 3.04 0a1.52 1.52 0 1 0 -3.04 0M161.6 347.8a1.52 1.52 0 1 0 3.04 0a1.52 1.52 0 1 0 -3.04 0M163.4 355.6a1.52 1.52 0 1 0 3.04 0a1.52 1.52 0 1 0 -3.04 0M165.1 351.6a1.52 1.52 0 1 0 3.04 0a1.52 1.52 0 1 0 -3.04 0M166.9 373.8a1.52 1.52 0 1 0 3.04 0a1.52 1.52 0 1 0 -3.04 0M168.7 381.8a1.52 1.52 0 1 0 3.04 0a1.52 1.52 0 1 0 -3.04 0M170.5 386.1a1.52 1.52 0 1 0 3.04 0a1.52 1.52 0 1 0 -3.04 0M172.3 376.7a1.52 1.52 0 1 0 3.04 0a1.52 1.52 0 1 0 -3.04 0M174.0 366.4a1.52 1.52 0 1 0 3.04 0a1.52 1.52 0 1 0 -3.04 0M175.8 350.2a1.52 1.52 0 1 0 3.04 0a1.52 1.52 0 1 0 -3.04 0M177.6 330.2a1.52 1.52 0 1 0 3.04 0a1.52 1.52 0 1 0 -3.04 0M179.4 323.1a1.52 1.52 0 1 0 3.04 0a1.52 1.52 0 1 0 -3.04 0M181.2 312.5a1.52 1.52 0 1 0 3.04 0a1.52 1.52 0 1 0 -3.04 0M182.9 313.5a1.52 1.52 0 1 0 3.04 0a1.52 1.52 0 1 0 -3.04 0M184.7 312.5a1.52 1.52 0 1 0 3.04 0a1.52 1.52 0 1 0 -3.04 0M186.5 306.3a1.52 1.52 0 1 0 3.04 0a1.52 1.52 0 1 0 -3.04 0M188.3 307.1a1.52 1.52 0 1 0 3.04 0a1.52 1.52 0 1 0 -3.04 0M190.1 294.0a1.52 1.52 0 1 0 3.04 0a1.52 1.52 0 1 0 -3.04 0M191.8 271.0a1.52 1.52 0 1 0 3.04 0a1.52 1.52 0 1 0 -3.04 0M193.6 256.7a1.52 1.52 0 1 0 3.04 0a1.52 1.52 0 1 0 -3.04 0M195.4 231.3a1.52 1.52 0 1 0 3.04 0a1.52 1.52 0 1 0 -3.04 0M197.2 218.7a1.52 1.52 0 1 0 3.04 0a1.52 1.52 0 1 0 -3.04 0M199.0 219.5a1.52 1.52 0 1 0 3.04 0a1.52 1.52 0 1 0 -3.04 0M200.7 218.9a1.52 1.52 0 1 0 3.04 0a1.52 1.52 0 1 0 -3.04 0M202.5 218.1a1.52 1.52 0 1 0 3.04 0a1.52 1.52 0 1 0 -3.04 0M204.3 217.2a1.52 1.52 0 1 0 3.04 0a1.52 1.52 0 1 0 -3.04 0M206.1 219.7a1.52 1.52 0 1 0 3.04 0a1.52 1.52 0 1 0 -3.04 0M207.9 224.8a1.52 1.52 0 1 0 3.04 0a1.52 1.52 0 1 0 -3.04 0M209.6 210.1a1.52 1.52 0 1 0 3.04 0a1.52 1.52 0 1 0 -3.04 0M211.4 205.7a1.52 1.52 0 1 0 3.04 0a1.52 1.52 0 1 0 -3.04 0M213.2 211.1a1.52 1.52 0 1 0 3.04 0a1.52 1.52 0 1 0 -3.04 0M215.0 201.3a1.52 1.52 0 1 0 3.04 0a1.52 1.52 0 1 0 -3.04 0M216.8 213.0a1.52 1.52 0 1 0 3.04 0a1.52 1.52 0 1 0 -3.04 0M218.5 222.5a1.52 1.52 0 1 0 3.04 0a1.52 1.52 0 1 0 -3.04 0M220.3 229.0a1.52 1.52 0 1 0 3.04 0a1.52 1.52 0 1 0 -3.04 0M222.1 228.2a1.52 1.52 0 1 0 3.04 0a1.52 1.52 0 1 0 -3.04 0M223.9 226.9a1.52 1.52 0 1 0 3.04 0a1.52 1.52 0 1 0 -3.04 0M225.7 245.0a1.52 1.52 0 1 0 3.04 0a1.52 1.52 0 1 0 -3.04 0M227.4 263.8a1.52 1.52 0 1 0 3.04 0a1.52 1.52 0 1 0 -3.04 0M229.2 281.9a1.52 1.52 0 1 0 3.04 0a1.52 1.52 0 1 0 -3.04 0M231.0 286.1a1.52 1.52 0 1 0 3.04 0a1.52 1.52 0 1 0 -3.04 0M232.8 287.3a1.52 1.52 0 1 0 3.04 0a1.52 1.52 0 1 0 -3.04 0M234.6 279.9a1.52 1.52 0 1 0 3.04 0a1.52 1.52 0 1 0 -3.04 0M236.3 266.8a1.52 1.52 0 1 0 3.04 0a1.52 1.52 0 1 0 -3.04 0M238.1 257.9a1.52 1.52 0 1 0 3.04 0a1.52 1.52 0 1 0 -3.04 0M239.9 244.3a1.52 1.52 0 1 0 3.04 0a1.52 1.52 0 1 0 -3.04 0M241.7 239.2a1.52 1.52 0 1 0 3.04 0a1.52 1.52 0 1 0 -3.04 0M243.5 236.5a1.52 1.52 0 1 0 3.04 0a1.52 1.52 0 1 0 -3.04 0M245.2 235.8a1.52 1.52 0 1 0 3.04 0a1.52 1.52 0 1 0 -3.04 0M247.0 239.2a1.52 1.52 0 1 0 3.04 0a1.52 1.52 0 1 0 -3.04 0M248.8 236.5a1.52 1.52 0 1 0 3.04 0a1.52 1.52 0 1 0 -3.04 0M250.6 235.1a1.52 1.52 0 1 0 3.04 0a1.52 1.52 0 1 0 -3.04 0M252.4 233.8a1.52 1.52 0 1 0 3.04 0a1.52 1.52 0 1 0 -3.04 0M254.1 230.4a1.52 1.52 0 1 0 3.04 0a1.52 1.52 0 1 0 -3.04 0M255.9 227.7a1.52 1.52 0 1 0 3.04 0a1.52 1.52 0 1 0 -3.04 0M257.7 227.3a1.52 1.52 0 1 0 3.04 0a1.52 1.52 0 1 0 -3.04 0M259.5 227.7a1.52 1.52 0 1 0 3.04 0a1.52 1.52 0 1 0 -3.04 0M261.3 228.7a1.52 1.52 0 1 0 3.04 0a1.52 1.52 0 1 0 -3.04 0M263.1 230.0a1.52 1.52 0 1 0 3.04 0a1.52 1.52 0 1 0 -3.04 0M264.8 230.4a1.52 1.52 0 1 0 3.04 0a1.52 1.52 0 1 0 -3.04 0M266.6 229.1a1.52 1.52 0 1 0 3.04 0a1.52 1.52 0 1 0 -3.04 0M268.4 229.5a1.52 1.52 0 1 0 3.04 0a1.52 1.52 0 1 0 -3.04 0M270.2 231.8a1.52 1.52 0 1 0 3.04 0a1.52 1.52 0 1 0 -3.04 0M272.0 232.2a1.52 1.52 0 1 0 3.04 0a1.52 1.52 0 1 0 -3.04 0M273.7 232.2a1.52 1.52 0 1 0 3.04 0a1.52 1.52 0 1 0 -3.04 0M275.5 232.2a1.52 1.52 0 1 0 3.04 0a1.52 1.52 0 1 0 -3.04 0M277.3 231.8a1.52 1.52 0 1 0 3.04 0a1.52 1.52 0 1 0 -3.04 0M279.1 227.7a1.52 1.52 0 1 0 3.04 0a1.52 1.52 0 1 0 -3.04 0M280.9 226.8a1.52 1.52 0 1 0 3.04 0a1.52 1.52 0 1 0 -3.04 0M282.6 229.1a1.52 1.52 0 1 0 3.04 0a1.52 1.52 0 1 0 -3.04 0M284.4 223.7a1.52 1.52 0 1 0 3.04 0a1.52 1.52 0 1 0 -3.04 0M286.2 223.3a1.52 1.52 0 1 0 3.04 0a1.52 1.52 0 1 0 -3.04 0M288.0 224.4a1.52 1.52 0 1 0 3.04 0a1.52 1.52 0 1 0 -3.04 0M289.8 225.1a1.52 1.52 0 1 0 3.04 0a1.52 1.52 0 1 0 -3.04 0M291.5 222.8a1.52 1.52 0 1 0 3.04 0a1.52 1.52 0 1 0 -3.04 0M293.3 221.0a1.52 1.52 0 1 0 3.04 0a1.52 1.52 0 1 0 -3.04 0M295.1 219.3a1.52 1.52 0 1 0 3.04 0a1.52 1.52 0 1 0 -3.04 0M296.9 217.7a1.52 1.52 0 1 0 3.04 0a1.52 1.52 0 1 0 -3.04 0M298.7 216.6a1.52 1.52 0 1 0 3.04 0a1.52 1.52 0 1 0 -3.04 0M300.4 217.4a1.52 1.52 0 1 0 3.04 0a1.52 1.52 0 1 0 -3.04 0M302.2 218.7a1.52 1.52 0 1 0 3.04 0a1.52 1.52 0 1 0 -3.04 0M304.0 219.3a1.52 1.52 0 1 0 3.04 0a1.52 1.52 0 1 0 -3.04 0M305.8 223.7a1.52 1.52 0 1 0 3.04 0a1.52 1.52 0 1 0 -3.04 0M307.6 226.4a1.52 1.52 0 1 0 3.04 0a1.52 1.52 0 1 0 -3.04 0M309.3 227.1a1.52 1.52 0 1 0 3.04 0a1.52 1.52 0 1 0 -3.04 0M311.1 241.0a1.52 1.52 0 1 0 3.04 0a1.52 1.52 0 1 0 -3.04 0M312.9 256.5a1.52 1.52 0 1 0 3.04 0a1.52 1.52 0 1 0 -3.04 0M314.7 278.2a1.52 1.52 0 1 0 3.04 0a1.52 1.52 0 1 0 -3.04 0M316.5 282.2a1.52 1.52 0 1 0 3.04 0a1.52 1.52 0 1 0 -3.04 0M318.2 283.5a1.52 1.52 0 1 0 3.04 0a1.52 1.52 0 1 0 -3.04 0M320.0 294.3a1.52 1.52 0 1 0 3.04 0a1.52 1.52 0 1 0 -3.04 0M321.8 299.7a1.52 1.52 0 1 0 3.04 0a1.52 1.52 0 1 0 -3.04 0M323.6 312.7a1.52 1.52 0 1 0 3.04 0a1.52 1.52 0 1 0 -3.04 0M325.4 325.2a1.52 1.52 0 1 0 3.04 0a1.52 1.52 0 1 0 -3.04 0M327.1 333.4a1.52 1.52 0 1 0 3.04 0a1.52 1.52 0 1 0 -3.04 0M328.9 334.7a1.52 1.52 0 1 0 3.04 0a1.52 1.52 0 1 0 -3.04 0M330.7 341.0a1.52 1.52 0 1 0 3.04 0a1.52 1.52 0 1 0 -3.04 0M332.5 354.3a1.52 1.52 0 1 0 3.04 0a1.52 1.52 0 1 0 -3.04 0M334.3 373.1a1.52 1.52 0 1 0 3.04 0a1.52 1.52 0 1 0 -3.04 0M336.0 380.5a1.52 1.52 0 1 0 3.04 0a1.52 1.52 0 1 0 -3.04 0M337.8 382.1a1.52 1.52 0 1 0 3.04 0a1.52 1.52 0 1 0 -3.04 0M339.6 365.7a1.52 1.52 0 1 0 3.04 0a1.52 1.52 0 1 0 -3.04 0M341.4 373.1a1.52 1.52 0 1 0 3.04 0a1.52 1.52 0 1 0 -3.04 0M343.2 382.1a1.52 1.52 0 1 0 3.04 0a1.52 1.52 0 1 0 -3.04 0M344.9 341.2a1.52 1.52 0 1 0 3.04 0a1.52 1.52 0 1 0 -3.04 0M346.7 360.1a1.52 1.52 0 1 0 3.04 0a1.52 1.52 0 1 0 -3.04 0M348.5 329.2a1.52 1.52 0 1 0 3.04 0a1.52 1.52 0 1 0 -3.04 0M350.3 317.2a1.52 1.52 0 1 0 3.04 0a1.52 1.52 0 1 0 -3.04 0M352.1 317.8a1.52 1.52 0 1 0 3.04 0a1.52 1.52 0 1 0 -3.04 0M353.8 317.2a1.52 1.52 0 1 0 3.04 0a1.52 1.52 0 1 0 -3.04 0M355.6 311.8a1.52 1.52 0 1 0 3.04 0a1.52 1.52 0 1 0 -3.04 0M357.4 299.0a1.52 1.52 0 1 0 3.04 0a1.52 1.52 0 1 0 -3.04 0M359.2 286.9a1.52 1.52 0 1 0 3.04 0a1.52 1.52 0 1 0 -3.04 0M361.0 275.5a1.52 1.52 0 1 0 3.04 0a1.52 1.52 0 1 0 -3.04 0M362.7 268.7a1.52 1.52 0 1 0 3.04 0a1.52 1.52 0 1 0 -3.04 0M364.5 266.4a1.52 1.52 0 1 0 3.04 0a1.52 1.52 0 1 0 -3.04 0M366.3 264.9a1.52 1.52 0 1 0 3.04 0a1.52 1.52 0 1 0 -3.04 0M368.1 263.9a1.52 1.52 0 1 0 3.04 0a1.52 1.52 0 1 0 -3.04 0M369.9 264.9a1.52 1.52 0 1 0 3.04 0a1.52 1.52 0 1 0 -3.04 0M371.6 262.0a1.52 1.52 0 1 0 3.04 0a1.52 1.52 0 1 0 -3.04 0M373.4 264.9a1.52 1.52 0 1 0 3.04 0a1.52 1.52 0 1 0 -3.04 0M375.2 255.2a1.52 1.52 0 1 0 3.04 0a1.52 1.52 0 1 0 -3.04 0M377.0 249.4a1.52 1.52 0 1 0 3.04 0a1.52 1.52 0 1 0 -3.04 0M378.8 236.8a1.52 1.52 0 1 0 3.04 0a1.52 1.52 0 1 0 -3.04 0M380.5 243.1a1.52 1.52 0 1 0 3.04 0a1.52 1.52 0 1 0 -3.04 0M382.3 233.3a1.52 1.52 0 1 0 3.04 0a1.52 1.52 0 1 0 -3.04 0M384.1 226.3a1.52 1.52 0 1 0 3.04 0a1.52 1.52 0 1 0 -3.04 0M385.9 220.3a1.52 1.52 0 1 0 3.04 0a1.52 1.52 0 1 0 -3.04 0M387.7 216.9a1.52 1.52 0 1 0 3.04 0a1.52 1.52 0 1 0 -3.04 0M389.4 214.9a1.52 1.52 0 1 0 3.04 0a1.52 1.52 0 1 0 -3.04 0M391.2 216.2a1.52 1.52 0 1 0 3.04 0a1.52 1.52 0 1 0 -3.04 0M393.0 236.4a1.52 1.52 0 1 0 3.04 0a1.52 1.52 0 1 0 -3.04 0M394.8 270.1a1.52 1.52 0 1 0 3.04 0a1.52 1.52 0 1 0 -3.04 0M396.6 288.5a1.52 1.52 0 1 0 3.04 0a1.52 1.52 0 1 0 -3.04 0M398.3 314.9a1.52 1.52 0 1 0 3.04 0a1.52 1.52 0 1 0 -3.04 0M400.1 337.3a1.52 1.52 0 1 0 3.04 0a1.52 1.52 0 1 0 -3.04 0M401.9 348.5a1.52 1.52 0 1 0 3.04 0a1.52 1.52 0 1 0 -3.04 0M403.7 351.6a1.52 1.52 0 1 0 3.04 0a1.52 1.52 0 1 0 -3.04 0M405.5 352.9a1.52 1.52 0 1 0 3.04 0a1.52 1.52 0 1 0 -3.04 0M407.2 343.5a1.52 1.52 0 1 0 3.04 0a1.52 1.52 0 1 0 -3.04 0M409.0 352.3a1.52 1.52 0 1 0 3.04 0a1.52 1.52 0 1 0 -3.04 0M410.8 365.5a1.52 1.52 0 1 0 3.04 0a1.52 1.52 0 1 0 -3.04 0M412.6 372.4a1.52 1.52 0 1 0 3.04 0a1.52 1.52 0 1 0 -3.04 0M414.4 378.9a1.52 1.52 0 1 0 3.04 0a1.52 1.52 0 1 0 -3.04 0M416.1 390.2a1.52 1.52 0 1 0 3.04 0a1.52 1.52 0 1 0 -3.04 0M417.9 398.0a1.52 1.52 0 1 0 3.04 0a1.52 1.52 0 1 0 -3.04 0M419.7 389.3a1.52 1.52 0 1 0 3.04 0a1.52 1.52 0 1 0 -3.04 0M421.5 392.6a1.52 1.52 0 1 0 3.04 0a1.52 1.52 0 1 0 -3.04 0M423.3 381.2a1.52 1.52 0 1 0 3.04 0a1.52 1.52 0 1 0 -3.04 0M425.0 398.0a1.52 1.52 0 1 0 3.04 0a1.52 1.52 0 1 0 -3.04 0M426.8 394.0a1.52 1.52 0 1 0 3.04 0a1.52 1.52 0 1 0 -3.04 0M428.6 388.9a1.52 1.52 0 1 0 3.04 0a1.52 1.52 0 1 0 -3.04 0M430.4 383.2a1.52 1.52 0 1 0 3.04 0a1.52 1.52 0 1 0 -3.04 0M432.2 374.5a1.52 1.52 0 1 0 3.04 0a1.52 1.52 0 1 0 -3.04 0M434.0 363.0a1.52 1.52 0 1 0 3.04 0a1.52 1.52 0 1 0 -3.04 0M435.7 357.0a1.52 1.52 0 1 0 3.04 0a1.52 1.52 0 1 0 -3.04 0M437.5 349.9a1.52 1.52 0 1 0 3.04 0a1.52 1.52 0 1 0 -3.04 0M439.3 348.9a1.52 1.52 0 1 0 3.04 0a1.52 1.52 0 1 0 -3.04 0M441.1 335.1a1.52 1.52 0 1 0 3.04 0a1.52 1.52 0 1 0 -3.04 0M442.9 322.0a1.52 1.52 0 1 0 3.04 0a1.52 1.52 0 1 0 -3.04 0M444.6 303.3a1.52 1.52 0 1 0 3.04 0a1.52 1.52 0 1 0 -3.04 0M446.4 295.9a1.52 1.52 0 1 0 3.04 0a1.52 1.52 0 1 0 -3.04 0M448.2 289.2a1.52 1.52 0 1 0 3.04 0a1.52 1.52 0 1 0 -3.04 0M450.0 283.8a1.52 1.52 0 1 0 3.04 0a1.52 1.52 0 1 0 -3.04 0M451.8 278.4a1.52 1.52 0 1 0 3.04 0a1.52 1.52 0 1 0 -3.04 0M453.5 273.0a1.52 1.52 0 1 0 3.04 0a1.52 1.52 0 1 0 -3.04 0M455.3 268.3a1.52 1.52 0 1 0 3.04 0a1.52 1.52 0 1 0 -3.04 0M457.1 262.3a1.52 1.52 0 1 0 3.04 0a1.52 1.52 0 1 0 -3.04 0M458.9 256.9a1.52 1.52 0 1 0 3.04 0a1.52 1.52 0 1 0 -3.04 0M460.7 252.9a1.52 1.52 0 1 0 3.04 0a1.52 1.52 0 1 0 -3.04 0M462.4 253.5a1.52 1.52 0 1 0 3.04 0a1.52 1.52 0 1 0 -3.04 0M464.2 253.5a1.52 1.52 0 1 0 3.04 0a1.52 1.52 0 1 0 -3.04 0M466.0 252.9a1.52 1.52 0 1 0 3.04 0a1.52 1.52 0 1 0 -3.04 0M467.8 249.5a1.52 1.52 0 1 0 3.04 0a1.52 1.52 0 1 0 -3.04 0M469.6 247.2a1.52 1.52 0 1 0 3.04 0a1.52 1.52 0 1 0 -3.04 0M471.3 250.2a1.52 1.52 0 1 0 3.04 0a1.52 1.52 0 1 0 -3.04 0M473.1 250.8a1.52 1.52 0 1 0 3.04 0a1.52 1.52 0 1 0 -3.04 0M474.9 242.8a1.52 1.52 0 1 0 3.04 0a1.52 1.52 0 1 0 -3.04 0M476.7 257.6a1.52 1.52 0 1 0 3.04 0a1.52 1.52 0 1 0 -3.04 0M478.5 261.6a1.52 1.52 0 1 0 3.04 0a1.52 1.52 0 1 0 -3.04 0M480.2 262.9a1.52 1.52 0 1 0 3.04 0a1.52 1.52 0 1 0 -3.04 0M482.0 271.7a1.52 1.52 0 1 0 3.04 0a1.52 1.52 0 1 0 -3.04 0M483.8 276.4a1.52 1.52 0 1 0 3.04 0a1.52 1.52 0 1 0 -3.04 0M485.6 285.1a1.52 1.52 0 1 0 3.04 0a1.52 1.52 0 1 0 -3.04 0M487.4 289.2a1.52 1.52 0 1 0 3.04 0a1.52 1.52 0 1 0 -3.04 0M489.1 283.1a1.52 1.52 0 1 0 3.04 0a1.52 1.52 0 1 0 -3.04 0M490.9 293.2a1.52 1.52 0 1 0 3.04 0a1.52 1.52 0 1 0 -3.04 0M492.7 296.6a1.52 1.52 0 1 0 3.04 0a1.52 1.52 0 1 0 -3.04 0M494.5 297.2a1.52 1.52 0 1 0 3.04 0a1.52 1.52 0 1 0 -3.04 0M496.3 301.9a1.52 1.52 0 1 0 3.04 0a1.52 1.52 0 1 0 -3.04 0M498.0 298.9a1.52 1.52 0 1 0 3.04 0a1.52 1.52 0 1 0 -3.04 0M499.8 302.6a1.52 1.52 0 1 0 3.04 0a1.52 1.52 0 1 0 -3.04 0M501.6 299.9a1.52 1.52 0 1 0 3.04 0a1.52 1.52 0 1 0 -3.04 0M503.4 299.3a1.52 1.52 0 1 0 3.04 0a1.52 1.52 0 1 0 -3.04 0M505.2 301.9a1.52 1.52 0 1 0 3.04 0a1.52 1.52 0 1 0 -3.04 0M506.9 300.6a1.52 1.52 0 1 0 3.04 0a1.52 1.52 0 1 0 -3.04 0M508.7 295.9a1.52 1.52 0 1 0 3.04 0a1.52 1.52 0 1 0 -3.04 0M510.5 289.2a1.52 1.52 0 1 0 3.04 0a1.52 1.52 0 1 0 -3.04 0M512.3 286.5a1.52 1.52 0 1 0 3.04 0a1.52 1.52 0 1 0 -3.04 0M514.1 284.5a1.52 1.52 0 1 0 3.04 0a1.52 1.52 0 1 0 -3.04 0M515.8 280.4a1.52 1.52 0 1 0 3.04 0a1.52 1.52 0 1 0 -3.04 0M517.6 273.7a1.52 1.52 0 1 0 3.04 0a1.52 1.52 0 1 0 -3.04 0M519.4 268.2a1.52 1.52 0 1 0 3.04 0a1.52 1.52 0 1 0 -3.04 0M521.2 268.2a1.52 1.52 0 1 0 3.04 0a1.52 1.52 0 1 0 -3.04 0M523.0 268.5a1.52 1.52 0 1 0 3.04 0a1.52 1.52 0 1 0 -3.04 0M524.7 259.9a1.52 1.52 0 1 0 3.04 0a1.52 1.52 0 1 0 -3.04 0M526.5 250.8a1.52 1.52 0 1 0 3.04 0a1.52 1.52 0 1 0 -3.04 0M528.3 245.0a1.52 1.52 0 1 0 3.04 0a1.52 1.52 0 1 0 -3.04 0M530.1 244.2a1.52 1.52 0 1 0 3.04 0a1.52 1.52 0 1 0 -3.04 0M531.9 241.3a1.52 1.52 0 1 0 3.04 0a1.52 1.52 0 1 0 -3.04 0M533.6 232.9a1.52 1.52 0 1 0 3.04 0a1.52 1.52 0 1 0 -3.04 0M535.4 232.9a1.52 1.52 0 1 0 3.04 0a1.52 1.52 0 1 0 -3.04 0M537.2 233.1a1.52 1.52 0 1 0 3.04 0a1.52 1.52 0 1 0 -3.04 0M539.0 232.8a1.52 1.52 0 1 0 3.04 0a1.52 1.52 0 1 0 -3.04 0M540.8 232.0a1.52 1.52 0 1 0 3.04 0a1.52 1.52 0 1 0 -3.04 0M542.5 232.4a1.52 1.52 0 1 0 3.04 0a1.52 1.52 0 1 0 -3.04 0M544.3 230.1a1.52 1.52 0 1 0 3.04 0a1.52 1.52 0 1 0 -3.04 0M546.1 229.7a1.52 1.52 0 1 0 3.04 0a1.52 1.52 0 1 0 -3.04 0M547.9 228.3a1.52 1.52 0 1 0 3.04 0a1.52 1.52 0 1 0 -3.04 0M549.7 229.0a1.52 1.52 0 1 0 3.04 0a1.52 1.52 0 1 0 -3.04 0M551.4 227.4a1.52 1.52 0 1 0 3.04 0a1.52 1.52 0 1 0 -3.04 0M553.2 227.7a1.52 1.52 0 1 0 3.04 0a1.52 1.52 0 1 0 -3.04 0M555.0 224.3a1.52 1.52 0 1 0 3.04 0a1.52 1.52 0 1 0 -3.04 0M556.8 222.3a1.52 1.52 0 1 0 3.04 0a1.52 1.52 0 1 0 -3.04 0M558.6 221.2a1.52 1.52 0 1 0 3.04 0a1.52 1.52 0 1 0 -3.04 0M560.3 219.6a1.52 1.52 0 1 0 3.04 0a1.52 1.52 0 1 0 -3.04 0M562.1 219.9a1.52 1.52 0 1 0 3.04 0a1.52 1.52 0 1 0 -3.04 0M563.9 222.3a1.52 1.52 0 1 0 3.04 0a1.52 1.52 0 1 0 -3.04 0M565.7 225.2a1.52 1.52 0 1 0 3.04 0a1.52 1.52 0 1 0 -3.04 0M567.5 229.0a1.52 1.52 0 1 0 3.04 0a1.52 1.52 0 1 0 -3.04 0M569.2 238.7a1.52 1.52 0 1 0 3.04 0a1.52 1.52 0 1 0 -3.04 0M571.0 264.7a1.52 1.52 0 1 0 3.04 0a1.52 1.52 0 1 0 -3.04 0M572.8 285.9a1.52 1.52 0 1 0 3.04 0a1.52 1.52 0 1 0 -3.04 0M574.6 315.5a1.52 1.52 0 1 0 3.04 0a1.52 1.52 0 1 0 -3.04 0M576.4 334.1a1.52 1.52 0 1 0 3.04 0a1.52 1.52 0 1 0 -3.04 0M578.1 348.1a1.52 1.52 0 1 0 3.04 0a1.52 1.52 0 1 0 -3.04 0M579.9 342.3a1.52 1.52 0 1 0 3.04 0a1.52 1.52 0 1 0 -3.04 0M581.7 342.0a1.52 1.52 0 1 0 3.04 0a1.52 1.52 0 1 0 -3.04 0M583.5 338.2a1.52 1.52 0 1 0 3.04 0a1.52 1.52 0 1 0 -3.04 0M585.3 359.8a1.52 1.52 0 1 0 3.04 0a1.52 1.52 0 1 0 -3.04 0M587.0 359.8a1.52 1.52 0 1 0 3.04 0a1.52 1.52 0 1 0 -3.04 0M588.8 355.6a1.52 1.52 0 1 0 3.04 0a1.52 1.52 0 1 0 -3.04 0M590.6 336.7a1.52 1.52 0 1 0 3.04 0a1.52 1.52 0 1 0 -3.04 0M592.4 340.2a1.52 1.52 0 1 0 3.04 0a1.52 1.52 0 1 0 -3.04 0M594.2 335.2a1.52 1.52 0 1 0 3.04 0a1.52 1.52 0 1 0 -3.04 0M595.9 336.0a1.52 1.52 0 1 0 3.04 0a1.52 1.52 0 1 0 -3.04 0M597.7 342.0a1.52 1.52 0 1 0 3.04 0a1.52 1.52 0 1 0 -3.04 0M599.5 333.7a1.52 1.52 0 1 0 3.04 0a1.52 1.52 0 1 0 -3.04 0M601.3 332.2a1.52 1.52 0 1 0 3.04 0a1.52 1.52 0 1 0 -3.04 0M603.1 326.1a1.52 1.52 0 1 0 3.04 0a1.52 1.52 0 1 0 -3.04 0M604.9 316.0a1.52 1.52 0 1 0 3.04 0a1.52 1.52 0 1 0 -3.04 0M606.6 324.6a1.52 1.52 0 1 0 3.04 0a1.52 1.52 0 1 0 -3.04 0M608.4 313.0a1.52 1.52 0 1 0 3.04 0a1.52 1.52 0 1 0 -3.04 0M610.2 303.0a1.52 1.52 0 1 0 3.04 0a1.52 1.52 0 1 0 -3.04 0M612.0 300.0a1.52 1.52 0 1 0 3.04 0a1.52 1.52 0 1 0 -3.04 0M613.8 301.9a1.52 1.52 0 1 0 3.04 0a1.52 1.52 0 1 0 -3.04 0M615.5 287.3a1.52 1.52 0 1 0 3.04 0a1.52 1.52 0 1 0 -3.04 0M617.3 265.6a1.52 1.52 0 1 0 3.04 0a1.52 1.52 0 1 0 -3.04 0M619.1 251.5a1.52 1.52 0 1 0 3.04 0a1.52 1.52 0 1 0 -3.04 0M620.9 239.1a1.52 1.52 0 1 0 3.04 0a1.52 1.52 0 1 0 -3.04 0" stroke="#00ff00" stroke-width="0.8"/>
<path d="M113.3 225.3 L115.0 224.8 L116.8 219.8 L118.6 224.4 L120.4 222.7 L122.2 219.4 L123.9 218.9 L125.7 220.2 L127.5 222.7 L129.3 221.9 L131.1 215.2 L132.8 211.4 L134.6 218.1 L136.4 208.4 L138.2 224.6 L140.0 228.2 L141.7 276.6 L143.5 292.0 L145.3 280.8 L147.1 299.1 L148.9 318.6 L150.6 319.2 L152.4 323.9 L154.2 319.7 L156.0 308.8 L157.8 309.7 L159.5 316.4 L161.3 329.8 L163.1 342.5 L164.9 347.9 L166.7 350.6 L168.4 371.1 L170.2 381.2 L172.0 386.1 L173.8 376.5 L175.6 363.7 L177.3 347.7 L179.1 327.0 L180.9 318.6 L182.7 306.3 L184.5 304.6 L186.2 303.8 L188.0 305.1 L189.8 304.1 L191.6 295.4 L193.4 271.3 L195.1 253.4 L196.9 226.5 L198.7 172.7 L200.5 215.3 L202.3 214.7 L204.0 213.4 L205.8 213.0 L207.6 213.9 L209.4 218.1 L211.2 185.8 L212.9 191.5 L214.7 211.1 L216.5 201.8 L218.3 206.6 L220.1 231.5 L221.8 228.6 L223.6 223.9 L225.4 212.2 L227.2 223.9 L229.0 250.4 L230.7 266.0 L232.5 278.2 L234.3 274.9 L236.1 271.0 L237.9 258.9 L239.6 251.8 L241.4 238.5 L243.2 233.8 L245.0 232.4 L246.8 232.7 L248.5 235.8 L250.3 231.8 L252.1 230.8 L253.9 229.1 L255.7 227.1 L257.4 223.7 L259.2 224.1 L261.0 224.4 L262.8 225.1 L264.6 226.4 L266.4 225.7 L268.1 224.4 L269.9 224.1 L271.7 227.1 L273.5 227.7 L275.3 229.1 L277.0 221.0 L278.8 221.0 L280.6 208.9 L282.4 220.3 L284.2 220.1 L285.9 214.7 L287.7 217.4 L289.5 224.1 L291.3 223.0 L293.1 219.0 L294.8 215.2 L296.6 206.2 L298.4 205.3 L300.2 205.6 L302.0 212.3 L303.7 214.3 L305.5 214.7 L307.3 209.9 L309.1 219.7 L310.9 216.0 L312.6 231.9 L314.4 245.3 L316.2 269.4 L318.0 273.4 L319.8 266.1 L321.5 275.1 L323.3 291.6 L325.1 306.4 L326.9 316.5 L328.7 329.3 L330.4 328.8 L332.2 336.1 L334.0 344.9 L335.8 364.4 L337.6 371.8 L339.3 378.9 L341.1 363.0 L342.9 370.4 L344.7 378.5 L346.5 336.4 L348.2 357.4 L350.0 325.8 L351.8 316.5 L353.6 317.2 L355.4 315.4 L357.1 310.8 L358.9 297.0 L360.7 285.6 L362.5 275.1 L364.3 268.2 L366.0 263.5 L367.8 254.6 L369.6 261.6 L371.4 276.4 L373.2 277.2 L374.9 272.4 L376.7 259.4 L378.5 246.2 L380.3 245.1 L382.1 238.4 L383.8 223.6 L385.6 211.8 L387.4 213.5 L389.2 208.8 L391.0 196.7 L392.7 193.6 L394.5 211.2 L396.3 244.1 L398.1 270.1 L399.9 304.6 L401.6 327.7 L403.4 339.9 L405.2 342.6 L407.0 346.2 L408.8 337.5 L410.5 344.9 L412.3 359.3 L414.1 367.3 L415.9 374.1 L417.7 385.2 L419.4 393.7 L421.2 388.6 L423.0 391.9 L424.8 378.1 L426.6 397.3 L428.4 392.6 L430.1 386.2 L431.9 382.5 L433.7 372.2 L435.5 361.4 L437.3 355.6 L439.0 348.9 L440.8 344.9 L442.6 331.4 L444.4 322.0 L446.2 299.3 L447.9 291.2 L449.7 283.8 L451.5 278.4 L453.3 272.8 L455.1 267.0 L456.8 261.6 L458.6 254.9 L460.4 250.2 L462.2 245.9 L464.0 245.5 L465.7 246.8 L467.5 244.8 L469.3 243.4 L471.1 241.4 L472.9 244.8 L474.6 246.8 L476.4 243.4 L478.2 256.9 L480.0 258.9 L481.8 262.3 L483.5 269.0 L485.3 271.7 L487.1 280.4 L488.9 281.8 L490.7 280.0 L492.4 287.2 L494.2 289.2 L496.0 291.2 L497.8 294.6 L499.6 293.2 L501.3 295.9 L503.1 291.2 L504.9 287.8 L506.7 292.5 L508.5 291.2 L510.2 289.8 L512.0 283.8 L513.8 281.1 L515.6 277.7 L517.4 271.7 L519.1 260.1 L520.9 264.1 L522.7 265.3 L524.5 268.5 L526.3 259.9 L528.0 244.3 L529.8 242.6 L531.6 243.6 L533.4 236.2 L535.2 230.5 L536.9 232.7 L538.7 232.5 L540.5 238.1 L542.3 242.4 L544.1 238.7 L545.8 230.3 L547.6 226.6 L549.4 226.3 L551.2 226.3 L553.0 222.0 L554.7 221.6 L556.5 211.5 L558.3 211.8 L560.1 214.9 L561.9 215.3 L563.6 214.2 L565.4 216.9 L567.2 221.6 L569.0 220.9 L570.8 233.7 L572.5 267.5 L574.3 283.6 L576.1 311.8 L577.9 327.2 L579.7 340.2 L581.4 341.7 L583.2 343.5 L585.0 334.1 L586.8 356.4 L588.6 354.9 L590.3 354.9 L592.1 326.6 L593.9 325.4 L595.7 332.6 L597.5 338.7 L599.2 349.3 L601.0 344.3 L602.8 337.8 L604.6 331.1 L606.4 322.3 L608.2 326.9 L609.9 316.0 L611.7 303.9 L613.5 301.5 L615.3 299.7 L617.1 283.9 L618.8 267.6 L620.6 250.9 L622.4 237.4" stroke="#ff0000" stroke-width="0.36"/>
<path d="M111.7 225.3a1.52 1.52 0 1 0 3.04 0a1.52 1.52 0 1 0 -3.04 0M113.5 224.8a1.52 1.52 0 1 0 3.04 0a1.52 1.52 0 1 0 -3.04 0M115.3 219.8a1.52 1.52 0 1 0 3.04 0a1.52 1.52 0 1 0 -3.04 0M117.1 224.4a1.52 1.52 0 1 0 3.04 0a1.52 1.52 0 1 0 -3.04 0M118.9 222.7a1.52 1.52 0 1 0 3.04 0a1.52 1.52 0 1 0 -3.04 0M120.6 219.4a1.52 1.52 0 1 0 3.04 0a1.52 1.52 0 1 0 -3.04 0M122.4 218.9a1.52 1.52 0 1 0 3.04 0a1.52 1.52 0 1 0 -3.04 0M124.2 220.2a1.52 1.52 0 1 0 3.04 0a1.52 1.52 0 1 0 -3.04 0M126.0 222.7a1.52 1.52 0 1 0 3.04 0a1.52 1.52 0 1 0 -3.04 0M127.8 221.9a1.52 1.52 0 1 0 3.04 0a1.52 1.52 0 1 0 -3.04 0M129.5 215.2a1.52 1.52 0 1 0 3.04 0a1.52 1.52 0 1 0 -3.04 0M131.3 211.4a1.52 1.52 0 1 0 3.04 0a1.52 1.52 0 1 0 -3.04 0M133.1 218.1a1.52 1.52 0 1 0 3.04 0a1.52 1.52 0 1 0 -3.04 0M134.9 208.4a1.52 1.52 0 1 0 3.04 0a1.52 1.52 0 1 0 -3.04 0M136.7 224.6a1.52 1.52 0 1 0 3.04 0a1.52 1.52 0 1 0 -3.04 0M138.4 228.2a1.52 1.52 0 1 0 3.04 0a1.52 1.52 0 1 0 -3.04 0M140.2 276.6a1.52 1.52 0 1 0 3.04 0a1.52 1.52 0 1 0 -3.04 0M142.0 292.0a1.52 1.52 0 1 0 3.04 0a1.52 1.52 0 1 0 -3.04 0M143.8 280.8a1.52 1.52 0 1 0 3.04 0a1.52 1.52 0 1 0 -3.04 0M145.6 299.1a1.52 1.52 0 1 0 3.04 0a1.52 1.52 0 1 0 -3.04 0M147.3 318.6a1.52 1.52 0 1 0 3.04 0a1.52 1.52 0 1 0 -3.04 0M149.1 319.2a1.52 1.52 0 1 0 3.04 0a1.52 1.52 0 1 0 -3.04 0M150.9 323.9a1.52 1.52 0 1 0 3.04 0a1.52 1.52 0 1 0 -3.04 0M152.7 319.7a1.52 1.52 0 1 0 3.04 0a1.52 1.52 0 1 0 -3.04 0M154.5 308.8a1.52 1.52 0 1 0 3.04 0a1.52 1.52 0 1 0 -3.04 0M156.2 309.7a1.52 1.52 0 1 0 3.04 0a1.52 1.52 0 1 0 -3.04 0M158.0 316.4a1.52 1.52 0 1 0 3.04 0a1.52 1.52 0 1 0 -3.04 0M159.8 329.8a1.52 1.52 0 1 0 3.04 0a1.52 1.52 0 1 0 -3.04 0M161.6 342.5a1.52 1.52 0 1 0 3.04 0a1.52 1.52 0 1 0 -3.04 0M163.4 347.9a1.52 1.52 0 1 0 3.04 0a1.52 1.52 0 1 0 -3.04 0M165.1 350.6a1.52 1.52 0 1 0 3.04 0a1.52 1.52 0 1 0 -3.04 0M166.9 371.1a1.52 1.52 0 1 0 3.04 0a1.52 1.52 0 1 0 -3.04 0M168.7 381.2a1.52 1.52 0 1 0 3.04 0a1.52 1.52 0 1 0 -3.04 0M170.5 386.1a1.52 1.52 0 1 0 3.04 0a1.52 1.52 0 1 0 -3.04 0M172.3 376.5a1.52 1.52 0 1 0 3.04 0a1.52 1.52 0 1 0 -3.04 0M174.0 363.7a1.52 1.52 0 1 0 3.04 0a1.52 1.52 0 1 0 -3.04 0M175.8 347.7a1.52 1.52 0 1 0 3.04 0a1.52 1.52 0 1 0 -3.04 0M177.6 327.0a1.52 1.52 0 1 0 3.04 0a1.52 1.52 0 1 0 -3.04 0M179.4 318.6a1.52 1.52 0 1 0 3.04 0a1.52 1.52 0 1 0 -3.04 0M181.2 306.3a1.52 1.52 0 1 0 3.04 0a1.52 1.52 0 1 0 -3.04 0M182.9 304.6a1.52 1.52 0 1 0 3.04 0a1.52 1.52 0 1 0 -3.04 0M184.7 303.8a1.52 1.52 0 1 0 3.04 0a1.52 1.52 0 1 0 -3.04 0M186.5 305.1a1.52 1.52 0 1 0 3.04 0a1.52 1.52 0 1 0 -3.04 0M188.3 304.1a1.52 1.52 0 1 0 3.04 0a1.52 1.52 0 1 0 -3.04 0M190.1 295.4a1.52 1.52 0 1 0 3.04 0a1.52 1.52 0 1 0 -3.04 0M191.8 271.3a1.52 1.52 0 1 0 3.04 0a1.52 1.52 0 1 0 -3.04 0M193.6 253.4a1.52 1.52 0 1 0 3.04 0a1.52 1.52 0 1 0 -3.04 0M195.4 226.5a1.52 1.52 0 1 0 3.04 0a1.52 1.52 0 1 0 -3.04 0M197.2 172.7a1.52 1.52 0 1 0 3.04 0a1.52 1.52 0 1 0 -3.04 0M199.0 215.3a1.52 1.52 0 1 0 3.04 0a1.52 1.52 0 1 0 -3.04 0M200.7 214.7a1.52 1.52 0 1 0 3.04 0a1.52 1.52 0 1 0 -3.04 0M202.5 213.4a1.52 1.52 0 1 0 3.04 0a1.52 1.52 0 1 0 -3.04 0M204.3 213.0a1.52 1.52 0 1 0 3.04 0a1.52 1.52 0 1 0 -3.04 0M206.1 213.9a1.52 1.52 0 1 0 3.04 0a1.52 1.52 0 1 0 -3.04 0M207.9 218.1a1.52 1.52 0 1 0 3.04 0a1.52 1.52 0 1 0 -3.04 0M209.6 185.8a1.52 1.52 0 1 0 3.04 0a1.52 1.52 0 1 0 -3.04 0M211.4 191.5a1.52 1.52 0 1 0 3.04 0a1.52 1.52 0 1 0 -3.04 0M213.2 211.1a1.52 1.52 0 1 0 3.04 0a1.52 1.52 0 1 0 -3.04 0M215.0 201.8a1.52 1.52 0 1 0 3.04 0a1.52 1.52 0 1 0 -3.04 0M216.8 206.6a1.52 1.52 0 1 0 3.04 0a1.52 1.52 0 1 0 -3.04 0M218.5 231.5a1.52 1.52 0 1 0 3.04 0a1.52 1.52 0 1 0 -3.04 0M220.3 228.6a1.52 1.52 0 1 0 3.04 0a1.52 1.52 0 1 0 -3.04 0M222.1 223.9a1.52 1.52 0 1 0 3.04 0a1.52 1.52 0 1 0 -3.04 0M223.9 212.2a1.52 1.52 0 1 0 3.04 0a1.52 1.52 0 1 0 -3.04 0M225.7 223.9a1.52 1.52 0 1 0 3.04 0a1.52 1.52 0 1 0 -3.04 0M227.4 250.4a1.52 1.52 0 1 0 3.04 0a1.52 1.52 0 1 0 -3.04 0M229.2 266.0a1.52 1.52 0 1 0 3.04 0a1.52 1.52 0 1 0 -3.04 0M231.0 278.2a1.52 1.52 0 1 0 3.04 0a1.52 1.52 0 1 0 -3.04 0M232.8 274.9a1.52 1.52 0 1 0 3.04 0a1.52 1.52 0 1 0 -3.04 0M234.6 271.0a1.52 1.52 0 1 0 3.04 0a1.52 1.52 0 1 0 -3.04 0M236.3 258.9a1.52 1.52 0 1 0 3.04 0a1.52 1.52 0 1 0 -3.04 0M238.1 251.8a1.52 1.52 0 1 0 3.04 0a1.52 1.52 0 1 0 -3.04 0M239.9 238.5a1.52 1.52 0 1 0 3.04 0a1.52 1.52 0 1 0 -3.04 0M241.7 233.8a1.52 1.52 0 1 0 3.04 0a1.52 1.52 0 1 0 -3.04 0M243.5 232.4a1.52 1.52 0 1 0 3.04 0a1.52 1.52 0 1 0 -3.04 0M245.2 232.7a1.52 1.52 0 1 0 3.04 0a1.52 1.52 0 1 0 -3.04 0M247.0 235.8a1.52 1.52 0 1 0 3.04 0a1.52 1.52 0 1 0 -3.04 0M248.8 231.8a1.52 1.52 0 1 0 3.04 0a1.52 1.52 0 1 0 -3.04 0M250.6 230.8a1.52 1.52 0 1 0 3.04 0a1.52 1.52 0 1 0 -3.04 0M252.4 229.1a1.52 1.52 0 1 0 3.04 0a1.52 1.52 0 1 0 -3.04 0M254.1 227.1a1.52 1.52 0 1 0 3.04 0a1.52 1.52 0 1 0 -3.04 0M255.9 223.7a1.52 1.52 0 1 0 3.04 0a1.52 1.52 0 1 0 -3.04 0M257.7 224.1a1.52 1.52 0 1 0 3.04 0a1.52 1.52 0 1 0 -3.04 0M259.5 224.4a1.52 1.52 0 1 0 3.04 0a1.52 1.52 0 1 0 -3.04 0M261.3 225.1a1.52 1.52 0 1 0 3.04 0a1.52 1.52 0 1 0 -3.04 0M263.1 226.4a1.52 1.52 0 1 0 3.04 0a1.52 1.52 0 1 0 -3.04 0M264.8 225.7a1.52 1.52 0 1 0 3.04 0a1.52 1.52 0 1 0 -3.04 0M266.6 224.4a1.52 1.52 0 1 0 3.04 0a1.52 1.52 0 1 0 -3.04 0M268.4 224.1a1.52 1.52 0 1 0 3.04 0a1.52 1.52 0 1 0 -3.04 0M270.2 227.1a1.52 1.52 0 1 0 3.04 0a1.52 1.52 0 1 0 -3.04 0M272.0 227.7a1.52 1.52 0 1 0 3.04 0a1.52 1.52 0 1 0 -3.04 0M273.7 229.1a1.52 1.52 0 1 0 3.04 0a1.52 1.52 0 1 0 -3.04 0M275.5 221.0a1.52 1.52 0 1 0 3.04 0a1.52 1.52 0 1 0 -3.04 0M277.3 221.0a1.52 1.52 0 1 0 3.04 0a1.52 1.52 0 1 0 -3.04 0M279.1 208.9a1.52 1.52 0 1 0 3.04 0a1.52 1.52 0 1 0 -3.04 0M280.9 220.3a1.52 1.52 0 1 0 3.04 0a1.52 1.52 0 1 0 -3.04 0M282.6 220.1a1.52 1.52 0 1 0 3.04 0a1.52 1.52 0 1 0 -3.04 0M284.4 214.7a1.52 1.52 0 1 0 3.04 0a1.52 1.52 0 1 0 -3.04 0M286.2 217.4a1.52 1.52 0 1 0 3.04 0a1.52 1.52 0 1 0 -3.04 0M288.0 224.1a1.52 1.52 0 1 0 3.04 0a1.52 1.52 0 1 0 -3.04 0M289.8 223.0a1.52 1.52 0 1 0 3.04 0a1.52 1.52 0 1 0 -3.04 0M291.5 219.0a1.52 1.52 0 1 0 3.04 0a1.52 1.52 0 1 0 -3.04 0M293.3 215.2a1.52 1.52 0 1 0 3.04 0a1.52 1.52 0 1 0 -3.04 0M295.1 206.2a1.52 1.52 0 1 0 3.04 0a1.52 1.52 0 1 0 -3.04 0M296.9 205.3a1.52 1.52 0 1 0 3.04 0a1.52 1.52 0 1 0 -3.04 0M298.7 205.6a1.52 1.52 0 1 0 3.04 0a1.52 1.52 0 1 0 -3.04 0M300.4 212.3a1.52 1.52 0 1 0 3.04 0a1.52 1.52 0 1 0 -3.04 0M302.2 214.3a1.52 1.52 0 1 0 3.04 0a1.52 1.52 0 1 0 -3.04 0M304.0 214.7a1.52 1.52 0 1 0 3.04 0a1.52 1.52 0 1 0 -3.04 0M305.8 209.9a1.52 1.52 0 1 0 3.04 0a1.52 1.52 0 1 0 -3.04 0M307.6 219.7a1.52 1.52 0 1 0 3.04 0a1.52 1.52 0 1 0 -3.04 0M309.3 216.0a1.52 1.52 0 1 0 3.04 0a1.52 1.52 0 1 0 -3.04 0M311.1 231.9a1.52 1.52 0 1 0 3.04 0a1.52 1.52 0 1 0 -3.04 0M312.9 245.3a1.52 1.52 0 1 0 3.04 0a1.52 1.52 0 1 0 -3.04 0M314.7 269.4a1.52 1.52 0 1 0 3.04 0a1.52 1.52 0 1 0 -3.04 0M316.5 273.4a1.52 1.52 0 1 0 3.04 0a1.52 1.52 0 1 0 -3.04 0M318.2 266.1a1.52 1.52 0 1 0 3.04 0a1.52 1.52 0 1 0 -3.04 0M320.0 275.1a1.52 1.52 0 1 0 3.04 0a1.52 1.52 0 1 0 -3.04 0M321.8 291.6a1.52 1.52 0 1 0 3.04 0a1.52 1.52 0 1 0 -3.04 0M323.6 306.4a1.52 1.52 0 1 0 3.04 0a1.52 1.52 0 1 0 -3.04 0M325.4 316.5a1.52 1.52 0 1 0 3.04 0a1.52 1.52 0 1 0 -3.04 0M327.1 329.3a1.52 1.52 0 1 0 3.04 0a1.52 1.52 0 1 0 -3.04 0M328.9 328.8a1.52 1.52 0 1 0 3.04 0a1.52 1.52 0 1 0 -3.04 0M330.7 336.1a1.52 1.52 0 1 0 3.04 0a1.52 1.52 0 1 0 -3.04 0M332.5 344.9a1.52 1.52 0 1 0 3.04 0a1.52 1.52 0 1 0 -3.04 0M334.3 364.4a1.52 1.52 0 1 0 3.04 0a1.52 1.52 0 1 0 -3.04 0M336.0 371.8a1.52 1.52 0 1 0 3.04 0a1.52 1.52 0 1 0 -3.04 0M337.8 378.9a1.52 1.52 0 1 0 3.04 0a1.52 1.52 0 1 0 -3.04 0M339.6 363.0a1.52 1.52 0 1 0 3.04 0a1.52 1.52 0 1 0 -3.04 0M341.4 370.4a1.52 1.52 0 1 0 3.04 0a1.52 1.52 0 1 0 -3.04 0M343.2 378.5a1.52 1.52 0 1 0 3.04 0a1.52 1.52 0 1 0 -3.04 0M344.9 336.4a1.52 1.52 0 1 0 3.04 0a1.52 1.52 0 1 0 -3.04 0M346.7 357.4a1.52 1.52 0 1 0 3.04 0a1.52 1.52 0 1 0 -3.04 0M348.5 325.8a1.52 1.52 0 1 0 3.04 0a1.52 1.52 0 1 0 -3.04 0M350.3 316.5a1.52 1.52 0 1 0 3.04 0a1.52 1.52 0 1 0 -3.04 0M352.1 317.2a1.52 1.52 0 1 0 3.04 0a1.52 1.52 0 1 0 -3.04 0M353.8 315.4a1.52 1.52 0 1 0 3.04 0a1.52 1.52 0 1 0 -3.04 0M355.6 310.8a1.52 1.52 0 1 0 3.04 0a1.52 1.52 0 1 0 -3.04 0M357.4 297.0a1.52 1.52 0 1 0 3.04 0a1.52 1.52 0 1 0 -3.04 0M359.2 285.6a1.52 1.52 0 1 0 3.04 0a1.52 1.52 0 1 0 -3.04 0M361.0 275.1a1.52 1.52 0 1 0 3.04 0a1.52 1.52 0 1 0 -3.04 0M362.7 268.2a1.52 1.52 0 1 0 3.04 0a1.52 1.52 0 1 0 -3.04 0M364.5 263.5a1.52 1.52 0 1 0 3.04 0a1.52 1.52 0 1 0 -3.04 0M366.3 254.6a1.52 1.52 0 1 0 3.04 0a1.52 1.52 0 1 0 -3.04 0M368.1 261.6a1.52 1.52 0 1 0 3.04 0a1.52 1.52 0 1 0 -3.04 0M369.9 276.4a1.52 1.52 0 1 0 3.04 0a1.52 1.52 0 1 0 -3.04 0M371.6 277.2a1.52 1.52 0 1 0 3.04 0a1.52 1.52 0 1 0 -3.04 0M373.4 272.4a1.52 1.52 0 1 0 3.04 0a1.52 1.52 0 1 0 -3.04 0M375.2 259.4a1.52 1.52 0 1 0 3.04 0a1.52 1.52 0 1 0 -3.04 0M377.0 246.2a1.52 1.52 0 1 0 3.04 0a1.52 1.52 0 1 0 -3.04 0M378.8 245.1a1.52 1.52 0 1 0 3.04 0a1.52 1.52 0 1 0 -3.04 0M380.5 238.4a1.52 1.52 0 1 0 3.04 0a1.52 1.52 0 1 0 -3.04 0M382.3 223.6a1.52 1.52 0 1 0 3.04 0a1.52 1.52 0 1 0 -3.04 0M384.1 211.8a1.52 1.52 0 1 0 3.04 0a1.52 1.52 0 1 0 -3.04 0M385.9 213.5a1.52 1.52 0 1 0 3.04 0a1.52 1.52 0 1 0 -3.04 0M387.7 208.8a1.52 1.52 0 1 0 3.04 0a1.52 1.52 0 1 0 -3.04 0M389.4 196.7a1.52 1.52 0 1 0 3.04 0a1.52 1.52 0 1 0 -3.04 0M391.2 193.6a1.52 1.52 0 1 0 3.04 0a1.52 1.52 0 1 0 -3.04 0M393.0 211.2a1.52 1.52 0 1 0 3.04 0a1.52 1.52 0 1 0 -3.04 0M394.8 244.1a1.52 1.52 0 1 0 3.04 0a1.52 1.52 0 1 0 -3.04 0M396.6 270.1a1.52 1.52 0 1 0 3.04 0a1.52 1.52 0 1 0 -3.04 0M398.3 304.6a1.52 1.52 0 1 0 3.04 0a1.52 1.52 0 1 0 -3.04 0M400.1 327.7a1.52 1.52 0 1 0 3.04 0a1.52 1.52 0 1 0 -3.04 0M401.9 339.9a1.52 1.52 0 1 0 3.04 0a1.52 1.52 0 1 0 -3.04 0M403.7 342.6a1.52 1.52 0 1 0 3.04 0a1.52 1.52 0 1 0 -3.04 0M405.5 346.2a1.52 1.52 0 1 0 3.04 0a1.52 1.52 0 1 0 -3.04 0M407.2 337.5a1.52 1.52 0 1 0 3.04 0a1.52 1.52 0 1 0 -3.04 0M409.0 344.9a1.52 1.52 0 1 0 3.04 0a1.52 1.52 0 1 0 -3.04 0M410.8 359.3a1.52 1.52 0 1 0 3.04 0a1.52 1.52 0 1 0 -3.04 0M412.6 367.3a1.52 1.52 0 1 0 3.04 0a1.52 1.52 0 1 0 -3.04 0M414.4 374.1a1.52 1.52 0 1 0 3.04 0a1.52 1.52 0 1 0 -3.04 0M416.1 385.2a1.52 1.52 0 1 0 3.04 0a1.52 1.52 0 1 0 -3.04 0M417.9 393.7a1.52 1.52 0 1 0 3.04 0a1.52 1.52 0 1 0 -3.04 0M419.7 388.6a1.52 1.52 0 1 0 3.04 0a1.52 1.52 0 1 0 -3.04 0M421.5 391.9a1.52 1.52 0 1 0 3.04 0a1.52 1.52 0 1 0 -3.04 0M423.3 378.1a1.52 1.52 0 1 0 3.04 0a1.52 1.52 0 1 0 -3.04 0M425.0 397.3a1.52 1.52 0 1 0 3.04 0a1.52 1.52 0 1 0 -3.04 0M426.8 392.6a1.52 1.52 0 1 0 3.04 0a1.52 1.52 0 1 0 -3.04 0M428.6 386.2a1.52 1.52 0 1 0 3.04 0a1.52 1.52 0 1 0 -3.04 0M430.4 382.5a1.52 1.52 0 1 0 3.04 0a1.52 1.52 0 1 0 -3.04 0M432.2 372.2a1.52 1.52 0 1 0 3.04 0a1.52 1.52 0 1 0 -3.04 0M434.0 361.4a1.52 1.52 0 1 0 3.04 0a1.52 1.52 0 1 0 -3.04 0M435.7 355.6a1.52 1.52 0 1 0 3.04 0a1.52 1.52 0 1 0 -3.04 0M437.5 348.9a1.52 1.52 0 1 0 3.04 0a1.52 1.52 0 1 0 -3.04 0M439.3 344.9a1.52 1.52 0 1 0 3.04 0a1.52 1.52 0 1 0 -3.04 0M441.1 331.4a1.52 1.52 0 1 0 3.04 0a1.52 1.52 0 1 0 -3.04 0M442.9 322.0a1.52 1.52 0 1 0 3.04 0a1.52 1.52 0 1 0 -3.04 0M444.6 299.3a1.52 1.52 0 1 0 3.04 0a1.52 1.52 0 1 0 -3.04 0M446.4 291.2a1.52 1.52 0 1 0 3.04 0a1.52 1.52 0 1 0 -3.04 0M448.2 283.8a1.52 1.52 0 1 0 3.04 0a1.52 1.52 0 1 0 -3.04 0M450.0 278.4a1.52 1.52 0 1 0 3.04 0a1.52 1.52 0 1 0 -3.04 0M451.8 272.8a1.52 1.52 0 1 0 3.04 0a1.52 1.52 0 1 0 -3.04 0M453.5 267.0a1.52 1.52 0 1 0 3.04 0a1.52 1.52 0 1 0 -3.04 0M455.3 261.6a1.52 1.52 0 1 0 3.04 0a1.52 1.52 0 1 0 -3.04 0M457.1 254.9a1.52 1.52 0 1 0 3.04 0a1.52 1.52 0 1 0 -3.04 0M458.9 250.2a1.52 1.52 0 1 0 3.04 0a1.52 1.52 0 1 0 -3.04 0M460.7 245.9a1.52 1.52 0 1 0 3.04 0a1.52 1.52 0 1 0 -3.04 0M462.4 245.5a1.52 1.52 0 1 0 3.04 0a1.52 1.52 0 1 0 -3.04 0M464.2 246.8a1.52 1.52 0 1 0 3.04 0a1.52 1.52 0 1 0 -3.04 0M466.0 244.8a1.52 1.52 0 1 0 3.04 0a1.52 1.52 0 1 0 -3.04 0M467.8 243.4a1.52 1.52 0 1 0 3.04 0a1.52 1.52 0 1 0 -3.04 0M469.6 241.4a1.52 1.52 0 1 0 3.04 0a1.52 1.52 0 1 0 -3.04 0M471.3 244.8a1.52 1.52 0 1 0 3.04 0a1.52 1.52 0 1 0 -3.04 0M473.1 246.8a1.52 1.52 0 1 0 3.04 0a1.52 1.52 0 1 0 -3.04 0M474.9 243.4a1.52 1.52 0 1 0 3.04 0a1.52 1.52 0 1 0 -3.04 0M476.7 256.9a1.52 1.52 0 1 0 3.04 0a1.52 1.52 0 1 0 -3.04 0M478.5 258.9a1.52 1.52 0 1 0 3.04 0a1.52 1.52 0 1 0 -3.04 0M480.2 262.3a1.52 1.52 0 1 0 3.04 0a1.52 1.52 0 1 0 -3.04 0M482.0 269.0a1.52 1.52 0 1 0 3.04 0a1.52 1.52 0 1 0 -3.04 0M483.8 271.7a1.52 1.52 0 1 0 3.04 0a1.52 1.52 0 1 0 -3.04 0M485.6 280.4a1.52 1.52 0 1 0 3.04 0a1.52 1.52 0 1 0 -3.04 0M487.4 281.8a1.52 1.52 0 1 0 3.04 0a1.52 1.52 0 1 0 -3.04 0M489.1 280.0a1.52 1.52 0 1 0 3.04 0a1.52 1.52 0 1 0 -3.04 0M490.9 287.2a1.52 1.52 0 1 0 3.04 0a1.52 1.52 0 1 0 -3.04 0M492.7 289.2a1.52 1.52 0 1 0 3.04 0a1.52 1.52 0 1 0 -3.04 0M494.5 291.2a1.52 1.52 0 1 0 3.04 0a1.52 1.52 0 1 0 -3.04 0M496.3 294.6a1.52 1.52 0 1 0 3.04 0a1.52 1.52 0 1 0 -3.04 0M498.0 293.2a1.52 1.52 0 1 0 3.04 0a1.52 1.52 0 1 0 -3.04 0M499.8 295.9a1.52 1.52 0 1 0 3.04 0a1.52 1.52 0 1 0 -3.04 0M501.6 291.2a1.52 1.52 0 1 0 3.04 0a1.52 1.52 0 1 0 -3.04 0M503.4 287.8a1.52 1.52 0 1 0 3.04 0a1.52 1.52 0 1 0 -3.04 0M505.2 292.5a1.52 1.52 0 1 0 3.04 0a1.52 1.52 0 1 0 -3.04 0M506.9 291.2a1.52 1.52 0 1 0 3.04 0a1.52 1.52 0 1 0 -3.04 0M508.7 289.8a1.52 1.52 0 1 0 3.04 0a1.52 1.52 0 1 0 -3.04 0M510.5 283.8a1.52 1.52 0 1 0 3.04 0a1.52 1.52 0 1 0 -3.04 0M512.3 281.1a1.52 1.52 0 1 0 3.04 0a1.52 1.52 0 1 0 -3.04 0M514.1 277.7a1.52 1.52 0 1 0 3.04 0a1.52 1.52 0 1 0 -3.04 0M515.8 271.7a1.52 1.52 0 1 0 3.04 0a1.52 1.52 0 1 0 -3.04 0M517.6 260.1a1.52 1.52 0 1 0 3.04 0a1.52 1.52 0 1 0 -3.04 0M519.4 264.1a1.52 1.52 0 1 0 3.04 0a1.52 1.52 0 1 0 -3.04 0M521.2 265.3a1.52 1.52 0 1 0 3.04 0a1.52 1.52 0 1 0 -3.04 0M523.0 268.5a1.52 1.52 0 1 0 3.04 0a1.52 1.52 0 1 0 -3.04 0M524.7 259.9a1.52 1.52 0 1 0 3.04 0a1.52 1.52 0 1 0 -3.04 0M526.5 244.3a1.52 1.52 0 1 0 3.04 0a1.52 1.52 0 1 0 -3.04 0M528.3 242.6a1.52 1.52 0 1 0 3.04 0a1.52 1.52 0 1 0 -3.04 0M530.1 243.6a1.52 1.52 0 1 0 3.04 0a1.52 1.52 0 1 0 -3.04 0M531.9 236.2a1.52 1.52 0 1 0 3.04 0a1.52 1.52 0 1 0 -3.04 0M533.6 230.5a1.52 1.52 0 1 0 3.04 0a1.52 1.52 0 1 0 -3.04 0M535.4 232.7a1.52 1.52 0 1 0 3.04 0a1.52 1.52 0 1 0 -3.04 0M537.2 232.5a1.52 1.52 0 1 0 3.04 0a1.52 1.52 0 1 0 -3.04 0M539.0 238.1a1.52 1.52 0 1 0 3.04 0a1.52 1.52 0 1 0 -3.04 0M540.8 242.4a1.52 1.52 0 1 0 3.04 0a1.52 1.52 0 1 0 -3.04 0M542.5 238.7a1.52 1.52 0 1 0 3.04 0a1.52 1.52 0 1 0 -3.04 0M544.3 230.3a1.52 1.52 0 1 0 3.04 0a1.52 1.52 0 1 0 -3.04 0M546.1 226.6a1.52 1.52 0 1 0 3.04 0a1.52 1.52 0 1 0 -3.04 0M547.9 226.3a1.52 1.52 0 1 0 3.04 0a1.52 1.52 0 1 0 -3.04 0M549.7 226.3a1.52 1.52 0 1 0 3.04 0a1.52 1.52 0 1 0 -3.04 0M551.4 222.0a1.52 1.52 0 1 0 3.04 0a1.52 1.52 0 1 0 -3.04 0M553.2 221.6a1.52 1.52 0 1 0 3.04 0a1.52 1.52 0 1 0 -3.04 0M555.0 211.5a1.52 1.52 0 1 0 3.04 0a1.52 1.52 0 1 0 -3.04 0M556.8 211.8a1.52 1.52 0 1 0 3.04 0a1.52 1.52 0 1 0 -3.04 0M558.6 214.9a1.52 1.52 0 1 0 3.04 0a1.52 1.52 0 1 0 -3.04 0M560.3 215.3a1.52 1.52 0 1 0 3.04 0a1.52 1.52 0 1 0 -3.04 0M562.1 214.2a1.52 1.52 0 1 0 3.04 0a1.52 1.52 0 1 0 -3.04 0M563.9 216.9a1.52 1.52 0 1 0 3.04 0a1.52 1.52 0 1 0 -3.04 0M565.7 221.6a1.52 1.52 0 1 0 3.04 0a1.52 1.52 0 1 0 -3.04 0M567.5 220.9a1.52 1.52 0 1 0 3.04 0a1.52 1.52 0 1 0 -3.04 0M569.2 233.7a1.52 1.52 0 1 0 3.04 0a1.52 1.52 0 1 0 -3.04 0M571.0 267.5a1.52 1.52 0 1 0 3.04 0a1.52 1.52 0 1 0 -3.04 0M572.8 283.6a1.52 1.52 0 1 0 3.04 0a1.52 1.52 0 1 0 -3.04 0M574.6 311.8a1.52 1.52 0 1 0 3.04 0a1.52 1.52 0 1 0 -3.04 0M576.4 327.2a1.52 1.52 0 1 0 3.04 0a1.52 1.52 0 1 0 -3.04 0M578.1 340.2a1.52 1.52 0 1 0 3.04 0a1.52 1.52 0 1 0 -3.04 0M579.9 341.7a1.52 1.52 0 1 0 3.04 0a1.52 1.52 0 1 0 -3.04 0M581.7 343.5a1.52 1.52 0 1 0 3.04 0a1.52 1.52 0 1 0 -3.04 0M583.5 334.1a1.52 1.52 0 1 0 3.04 0a1.52 1.52 0 1 0 -3.04 0M585.3 356.4a1.52 1.52 0 1 0 3.04 0a1.52 1.52 0 1 0 -3.04 0M587.0 354.9a1.52 1.52 0 1 0 3.04 0a1.52 1.52 0 1 0 -3.04 0M588.8 354.9a1.52 1.52 0 1 0 3.04 0a1.52 1.52 0 1 0 -3.04 0M590.6 326.6a1.52 1.52 0 1 0 3.04 0a1.52 1.52 0 1 0 -3.04 0M592.4 325.4a1.52 1.52 0 1 0 3.04 0a1.52 1.52 0 1 0 -3.04 0M594.2 332.6a1.52 1.52 0 1 0 3.04 0a1.52 1.52 0 1 0 -3.04 0M595.9 338.7a1.52 1.52 0 1 0 3.04 0a1.52 1.52 0 1 0 -3.04 0M597.7 349.3a1.52 1.52 0 1 0 3.04 0a1.52 1.52 0 1 0 -3.04 0M599.5 344.3a1.52 1.52 0 1 0 3.04 0a1.52 1.52 0 1 0 -3.04 0M601.3 337.8a1.52 1.52 0 1 0 3.04 0a1.52 1.52 0 1 0 -3.04 0M603.1 331.1a1.52 1.52 0 1 0 3.04 0a1.52 1.52 0 1 0 -3.04 0M604.9 322.3a1.52 1.52 0 1 0 3.04 0a1.52 1.52 0 1 0 -3.04 0M606.6 326.9a1.52 1.52 0 1 0 3.04 0a1.52 1.52 0 1 0 -3.04 0M608.4 316.0a1.52 1.52 0 1 0 3.04 0a1.52 1.52 0 1 0 -3.04 0M610.2 303.9a1.52 1.52 0 1 0 3.04 0a1.52 1.52 0 1 0 -3.04 0M612.0 301.5a1.52 1.52 0 1 0 3.04 0a1.52 1.52 0 1 0 -3.04 0M613.8 299.7a1.52 1.52 0 1 0 3.04 0a1.52 1.52 0 1 0 -3.04 0M615.5 283.9a1.52 1.52 0 1 0 3.04 0a1.52 1.52 0 1 0 -3.04 0M617.3 267.6a1.52 1.52 0 1 0 3.04 0a1.52 1.52 0 1 0 -3.04 0M619.1 250.9a1.52 1.52 0 1 0 3.04 0a1.52 1.52 0 1 0 -3.04 0M620.9 237.4a1.52 1.52 0 1 0 3.04 0a1.52 1.52 0 1 0 -3.04 0" stroke="#ff0000" stroke-width="0.8"/>
</g>
<g stroke="#000" stroke-width="0.6" fill="none">
<line x1="132.81" y1="84.7" x2="132.81" y2="81.8"/>
<line x1="132.81" y1="481.4" x2="132.81" y2="484.29999999999995"/>
<line x1="154.18" y1="84.7" x2="154.18" y2="81.8"/>
<line x1="154.18" y1="481.4" x2="154.18" y2="484.29999999999995"/>
<line x1="175.54" y1="84.7" x2="175.54" y2="81.8"/>
<line x1="175.54" y1="481.4" x2="175.54" y2="484.29999999999995"/>
<line x1="218.26" y1="84.7" x2="218.26" y2="81.8"/>
<line x1="218.26" y1="481.4" x2="218.26" y2="484.29999999999995"/>
<line x1="239.62" y1="84.7" x2="239.62" y2="81.8"/>
<line x1="239.62" y1="481.4" x2="239.62" y2="484.29999999999995"/>
<line x1="260.99" y1="84.7" x2="260.99" y2="81.8"/>
<line x1="260.99" y1="481.4" x2="260.99" y2="484.29999999999995"/>
<line x1="303.71" y1="84.7" x2="303.71" y2="81.8"/>
<line x1="303.71" y1="481.4" x2="303.71" y2="484.29999999999995"/>
<line x1="325.08" y1="84.7" x2="325.08" y2="81.8"/>
<line x1="325.08" y1="481.4" x2="325.08" y2="484.29999999999995"/>
<line x1="346.44" y1="84.7" x2="346.44" y2="81.8"/>
<line x1="346.44" y1="481.4" x2="346.44" y2="484.29999999999995"/>
<line x1="389.16" y1="84.7" x2="389.16" y2="81.8"/>
<line x1="389.16" y1="481.4" x2="389.16" y2="484.29999999999995"/>
<line x1="410.52" y1="84.7" x2="410.52" y2="81.8"/>
<line x1="410.52" y1="481.4" x2="410.52" y2="484.29999999999995"/>
<line x1="431.89" y1="84.7" x2="431.89" y2="81.8"/>
<line x1="431.89" y1="481.4" x2="431.89" y2="484.29999999999995"/>
<line x1="474.61" y1="84.7" x2="474.61" y2="81.8"/>
<line x1="474.61" y1="481.4" x2="474.61" y2="484.29999999999995"/>
<line x1="495.98" y1="84.7" x2="495.98" y2="81.8"/>
<line x1="495.98" y1="481.4" x2="495.98" y2="484.29999999999995"/>
<line x1="517.34" y1="84.7" x2="517.34" y2="81.8"/>
<line x1="517.34" y1="481.4" x2="517.34" y2="484.29999999999995"/>
<line x1="560.06" y1="84.7" x2="560.06" y2="81.8"/>
<line x1="560.06" y1="481.4" x2="560.06" y2="484.29999999999995"/>
<line x1="581.43" y1="84.7" x2="581.43" y2="81.8"/>
<line x1="581.43" y1="481.4" x2="581.43" y2="484.29999999999995"/>
<line x1="602.79" y1="84.7" x2="602.79" y2="81.8"/>
<line x1="602.79" y1="481.4" x2="602.79" y2="484.29999999999995"/>
<line x1="113.4" y1="431.50" x2="110.5" y2="431.50"/>
<line x1="623.7" y1="431.50" x2="626.6" y2="431.50"/>
<line x1="113.4" y1="332.50" x2="110.5" y2="332.50"/>
<line x1="623.7" y1="332.50" x2="626.6" y2="332.50"/>
<line x1="113.4" y1="233.50" x2="110.5" y2="233.50"/>
<line x1="623.7" y1="233.50" x2="626.6" y2="233.50"/>
<line x1="113.4" y1="134.50" x2="110.5" y2="134.50"/>
<line x1="623.7" y1="134.50" x2="626.6" y2="134.50"/>
</g>
<g stroke="#000" stroke-width="0.95" fill="none">
<line x1="196.90" y1="84.7" x2="196.90" y2="79.10000000000001"/>
<line x1="196.90" y1="481.4" x2="196.90" y2="487.0"/>
<line x1="282.35" y1="84.7" x2="282.35" y2="79.10000000000001"/>
<line x1="282.35" y1="481.4" x2="282.35" y2="487.0"/>
<line x1="367.80" y1="84.7" x2="367.80" y2="79.10000000000001"/>
<line x1="367.80" y1="481.4" x2="367.80" y2="487.0"/>
<line x1="453.25" y1="84.7" x2="453.25" y2="79.10000000000001"/>
<line x1="453.25" y1="481.4" x2="453.25" y2="487.0"/>
<line x1="538.70" y1="84.7" x2="538.70" y2="79.10000000000001"/>
<line x1="538.70" y1="481.4" x2="538.70" y2="487.0"/>
<line x1="113.4" y1="481.4" x2="107.2" y2="481.4" stroke-width="0.75"/>
<line x1="623.7" y1="481.4" x2="629.6" y2="481.4" stroke-width="0.75"/>
<line x1="113.4" y1="382.5" x2="107.2" y2="382.5" stroke-width="0.75"/>
<line x1="623.7" y1="382.5" x2="629.6" y2="382.5" stroke-width="0.75"/>
<line x1="113.4" y1="283.5" x2="107.2" y2="283.5" stroke-width="0.75"/>
<line x1="623.7" y1="283.5" x2="629.6" y2="283.5" stroke-width="0.75"/>
<line x1="113.4" y1="184.5" x2="107.2" y2="184.5" stroke-width="0.75"/>
<line x1="623.7" y1="184.5" x2="629.6" y2="184.5" stroke-width="0.75"/>
<line x1="113.4" y1="84.7" x2="107.2" y2="84.7" stroke-width="0.75"/>
<line x1="623.7" y1="84.7" x2="629.6" y2="84.7" stroke-width="0.75"/>
</g>
<rect x="113.4" y="84.7" width="510.30" height="396.70" fill="none" stroke="#000" stroke-width="1.5"/>
<text x="138.6" y="45.8" font-size="36">Relative Humidity / 2006-06-22</text>
<text x="101.1" y="69.9" font-size="18" letter-spacing="0.2" stroke-width="0.4">[%]</text>
<text x="104.5" y="487.9" font-size="20.5" letter-spacing="0.2" text-anchor="end">40</text>
<text x="104.5" y="389.0" font-size="20.5" letter-spacing="0.2" text-anchor="end">60</text>
<text x="104.5" y="290.0" font-size="20.5" letter-spacing="0.2" text-anchor="end">80</text>
<text x="104.5" y="191.0" font-size="20.5" letter-spacing="0.2" text-anchor="end">100</text>
<text x="104.5" y="91.2" font-size="20.5" letter-spacing="0.2" text-anchor="end">120</text>
<text x="197.4" y="507" font-size="20" letter-spacing="0.15" text-anchor="middle">00:00</text>
<text x="283.4" y="507" font-size="20" letter-spacing="0.15" text-anchor="middle">00:00</text>
<text x="368.4" y="507" font-size="20" letter-spacing="0.15" text-anchor="middle">00:00</text>
<text x="453.4" y="507" font-size="20" letter-spacing="0.15" text-anchor="middle">00:00</text>
<text x="539.4" y="507" font-size="20" letter-spacing="0.15" text-anchor="middle">00:00</text>
<text x="155.8" y="526.6" font-size="19.3" letter-spacing="0.25" text-anchor="middle">Jun-17</text>
<text x="240.8" y="526.6" font-size="19.3" letter-spacing="0.25" text-anchor="middle">Jun-18</text>
<text x="325.9" y="526.6" font-size="19.3" letter-spacing="0.25" text-anchor="middle">Jun-19</text>
<text x="411.0" y="526.6" font-size="19.3" letter-spacing="0.25" text-anchor="middle">Jun-20</text>
<text x="496.1" y="526.6" font-size="19.3" letter-spacing="0.25" text-anchor="middle">Jun-21</text>
<text x="581.2" y="526.6" font-size="19.3" letter-spacing="0.25" text-anchor="middle">Jun-22</text>
<text x="340.9" y="551" font-size="24" letter-spacing="-0.3">(LST)</text>
<text x="822.6" y="550.2" font-size="18.13" text-anchor="end">Observed at TERC Tower site</text>
<text x="822.6" y="572" font-size="18.03" text-anchor="end">Created Automatically at 2006-06-22/23:32:44</text>
<text x="821.6" y="594" font-size="18.01" text-anchor="end">Data source : /home/hoivo/new/TERC-data/sorted_data/MET.30m.dat</text>
<rect x="638.1" y="396.5" width="184.5" height="85" fill="#fff" stroke="#000" stroke-width="1.25"/>
<line x1="643.2" y1="410.6" x2="654.8" y2="410.6" stroke="#f00" stroke-width="0.5"/>
<circle cx="649" cy="410.6" r="1.35" fill="none" stroke="#f00" stroke-width="0.95"/>
<text x="660" y="416.3" font-size="18.1">at 29.5 m</text>
<line x1="643.2" y1="439.1" x2="654.8" y2="439.1" stroke="#0f0" stroke-width="0.5"/>
<circle cx="649" cy="439.1" r="1.35" fill="none" stroke="#0f0" stroke-width="0.95"/>
<text x="660" y="444.8" font-size="18.1">at 12.3 m</text>
<line x1="643.2" y1="467.3" x2="654.8" y2="467.3" stroke="#00f" stroke-width="0.5"/>
<circle cx="649" cy="467.3" r="1.35" fill="none" stroke="#00f" stroke-width="0.95"/>
<text x="660" y="473.0" font-size="18.1">at 1.6 m</text>
</svg></body></html>
